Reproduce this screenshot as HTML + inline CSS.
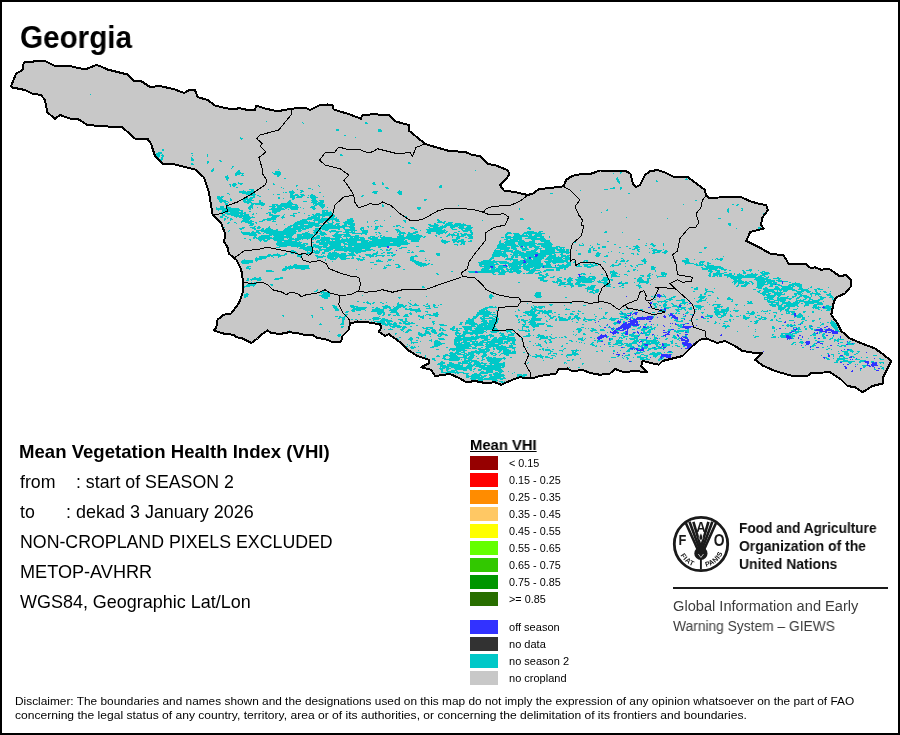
<!DOCTYPE html><html><head><meta charset='utf-8'><title>Georgia - Mean VHI</title><style>
html,body{margin:0;padding:0;background:#fff;}
body{width:900px;height:735px;position:relative;overflow:hidden;font-family:"Liberation Sans",sans-serif;color:#000;}
#frame{position:absolute;left:0;top:0;width:896px;height:731px;border:2px solid #000;}
.t{position:absolute;white-space:nowrap;transform-origin:0 0;line-height:1;will-change:transform;}
.b{font-weight:bold;}
svg{position:absolute;left:0;top:0;}
.sw{position:absolute;left:470px;width:28px;height:14px;}
.lb{position:absolute;left:509.5px;font-size:9.5px;line-height:1;white-space:nowrap;transform-origin:0 0;transform:scaleX(1.12);}
</style></head><body>
<svg width='900' height='735' viewBox='0 0 900 735' shape-rendering='crispEdges'>
<defs><clipPath id='cc'><polygon points='23.75,62.50 41.00,60.75 45.00,61.00 54.00,65.50 67.50,65.50 85.00,69.50 96.00,65.00 100.00,66.00 107.50,69.50 127.50,74.50 134.00,81.00 141.00,81.00 150.00,87.00 160.00,86.00 175.00,89.50 184.00,93.00 190.00,89.50 195.00,90.00 197.50,97.00 207.50,100.00 215.00,105.50 225.00,108.00 235.00,109.50 238.75,108.00 250.00,110.50 255.00,110.00 256.00,105.50 266.00,108.75 277.50,111.25 291.00,108.75 305.00,107.50 310.00,110.00 318.75,105.50 327.50,104.50 332.50,105.50 333.75,109.50 350.00,114.50 361.00,118.75 362.00,115.50 372.50,114.25 388.75,115.00 395.00,121.25 408.75,125.00 408.75,130.50 425.00,143.75 432.50,146.25 450.00,151.25 465.00,151.75 471.00,154.50 480.00,156.25 487.50,163.75 496.00,165.50 507.50,170.00 509.50,173.75 506.00,179.50 500.00,185.00 503.75,190.50 515.00,192.00 527.50,195.00 532.50,193.75 538.75,189.25 550.00,188.00 563.75,186.25 566.00,180.00 572.50,175.75 580.00,174.25 591.00,173.75 600.00,170.50 612.50,170.75 626.00,171.25 630.50,173.75 633.00,183.75 636.00,187.00 640.00,185.00 645.00,175.00 650.00,171.25 657.50,170.00 665.00,172.50 675.00,177.50 687.50,177.00 705.00,190.00 706.00,195.00 708.75,198.00 718.75,197.50 735.00,196.75 741.00,197.00 750.00,201.25 758.75,203.75 766.00,205.00 768.00,210.00 762.50,217.50 761.00,225.00 763.75,228.75 752.50,231.25 750.00,232.25 746.25,241.00 761.25,248.50 770.00,253.50 783.75,255.50 788.75,264.00 805.00,263.50 811.25,268.50 815.00,267.25 821.25,269.75 828.75,268.50 840.00,276.50 846.25,274.75 851.25,280.50 851.25,286.00 845.00,293.50 836.25,297.25 833.75,302.25 831.25,314.75 837.50,323.50 841.25,331.00 850.00,338.50 865.00,344.75 875.00,348.50 883.75,354.75 891.25,361.00 888.75,366.00 885.00,373.50 882.50,378.50 882.50,383.50 872.50,386.00 862.50,392.25 855.00,387.25 847.50,386.00 841.25,379.75 830.00,372.25 811.25,373.00 807.50,376.00 792.50,376.00 775.00,371.00 762.50,365.50 755.00,359.75 762.50,353.00 755.00,353.00 742.50,351.00 735.00,346.00 725.00,341.00 717.50,343.00 706.25,338.50 700.00,339.75 692.50,346.00 682.50,356.00 662.50,361.00 658.75,364.75 642.50,361.00 641.25,366.00 647.50,372.25 635.00,371.00 623.75,372.25 615.00,369.00 610.00,373.50 600.00,374.75 590.00,373.00 582.50,369.75 572.50,371.50 567.50,368.50 558.75,369.00 556.25,373.50 540.00,376.00 531.25,378.50 520.00,377.25 512.50,379.75 501.25,384.75 495.00,382.25 485.00,383.00 475.00,381.00 466.25,382.25 460.00,378.50 450.00,374.00 435.00,376.00 431.25,369.75 421.25,367.25 428.75,363.50 428.75,359.75 417.50,356.00 407.50,349.75 400.00,342.25 388.75,334.00 385.00,336.00 378.75,331.50 381.25,328.00 380.00,324.00 375.00,323.50 367.50,322.25 357.50,321.50 350.00,323.50 348.75,329.75 342.50,336.00 341.25,341.50 331.25,341.50 325.00,339.00 317.50,338.00 312.50,334.75 303.75,334.75 297.50,333.00 288.75,332.25 280.00,334.00 271.25,333.00 267.50,330.50 261.25,334.75 257.50,338.50 251.25,343.00 241.25,338.00 236.25,337.25 233.75,334.75 225.00,334.00 213.75,330.50 216.25,327.25 217.50,319.75 223.75,314.75 231.25,313.50 238.75,303.50 242.50,293.50 243.00,281.00 241.25,269.75 236.25,259.75 228.75,253.50 227.50,247.25 224.25,242.25 225.00,233.50 221.25,223.50 213.75,216.00 212.50,213.75 209.00,192.50 204.00,177.50 195.00,169.50 175.00,164.50 162.50,163.75 155.00,156.00 151.00,143.75 147.50,138.75 136.00,139.50 122.50,127.50 100.00,126.00 87.50,125.00 77.50,118.75 72.50,119.50 60.00,115.00 55.00,118.75 47.50,112.50 45.00,100.00 41.00,95.00 32.50,93.75 25.00,90.00 12.50,87.50 11.00,86.00 16.00,73.75 22.50,70.00'/></clipPath></defs>
<polygon points='23.75,62.50 41.00,60.75 45.00,61.00 54.00,65.50 67.50,65.50 85.00,69.50 96.00,65.00 100.00,66.00 107.50,69.50 127.50,74.50 134.00,81.00 141.00,81.00 150.00,87.00 160.00,86.00 175.00,89.50 184.00,93.00 190.00,89.50 195.00,90.00 197.50,97.00 207.50,100.00 215.00,105.50 225.00,108.00 235.00,109.50 238.75,108.00 250.00,110.50 255.00,110.00 256.00,105.50 266.00,108.75 277.50,111.25 291.00,108.75 305.00,107.50 310.00,110.00 318.75,105.50 327.50,104.50 332.50,105.50 333.75,109.50 350.00,114.50 361.00,118.75 362.00,115.50 372.50,114.25 388.75,115.00 395.00,121.25 408.75,125.00 408.75,130.50 425.00,143.75 432.50,146.25 450.00,151.25 465.00,151.75 471.00,154.50 480.00,156.25 487.50,163.75 496.00,165.50 507.50,170.00 509.50,173.75 506.00,179.50 500.00,185.00 503.75,190.50 515.00,192.00 527.50,195.00 532.50,193.75 538.75,189.25 550.00,188.00 563.75,186.25 566.00,180.00 572.50,175.75 580.00,174.25 591.00,173.75 600.00,170.50 612.50,170.75 626.00,171.25 630.50,173.75 633.00,183.75 636.00,187.00 640.00,185.00 645.00,175.00 650.00,171.25 657.50,170.00 665.00,172.50 675.00,177.50 687.50,177.00 705.00,190.00 706.00,195.00 708.75,198.00 718.75,197.50 735.00,196.75 741.00,197.00 750.00,201.25 758.75,203.75 766.00,205.00 768.00,210.00 762.50,217.50 761.00,225.00 763.75,228.75 752.50,231.25 750.00,232.25 746.25,241.00 761.25,248.50 770.00,253.50 783.75,255.50 788.75,264.00 805.00,263.50 811.25,268.50 815.00,267.25 821.25,269.75 828.75,268.50 840.00,276.50 846.25,274.75 851.25,280.50 851.25,286.00 845.00,293.50 836.25,297.25 833.75,302.25 831.25,314.75 837.50,323.50 841.25,331.00 850.00,338.50 865.00,344.75 875.00,348.50 883.75,354.75 891.25,361.00 888.75,366.00 885.00,373.50 882.50,378.50 882.50,383.50 872.50,386.00 862.50,392.25 855.00,387.25 847.50,386.00 841.25,379.75 830.00,372.25 811.25,373.00 807.50,376.00 792.50,376.00 775.00,371.00 762.50,365.50 755.00,359.75 762.50,353.00 755.00,353.00 742.50,351.00 735.00,346.00 725.00,341.00 717.50,343.00 706.25,338.50 700.00,339.75 692.50,346.00 682.50,356.00 662.50,361.00 658.75,364.75 642.50,361.00 641.25,366.00 647.50,372.25 635.00,371.00 623.75,372.25 615.00,369.00 610.00,373.50 600.00,374.75 590.00,373.00 582.50,369.75 572.50,371.50 567.50,368.50 558.75,369.00 556.25,373.50 540.00,376.00 531.25,378.50 520.00,377.25 512.50,379.75 501.25,384.75 495.00,382.25 485.00,383.00 475.00,381.00 466.25,382.25 460.00,378.50 450.00,374.00 435.00,376.00 431.25,369.75 421.25,367.25 428.75,363.50 428.75,359.75 417.50,356.00 407.50,349.75 400.00,342.25 388.75,334.00 385.00,336.00 378.75,331.50 381.25,328.00 380.00,324.00 375.00,323.50 367.50,322.25 357.50,321.50 350.00,323.50 348.75,329.75 342.50,336.00 341.25,341.50 331.25,341.50 325.00,339.00 317.50,338.00 312.50,334.75 303.75,334.75 297.50,333.00 288.75,332.25 280.00,334.00 271.25,333.00 267.50,330.50 261.25,334.75 257.50,338.50 251.25,343.00 241.25,338.00 236.25,337.25 233.75,334.75 225.00,334.00 213.75,330.50 216.25,327.25 217.50,319.75 223.75,314.75 231.25,313.50 238.75,303.50 242.50,293.50 243.00,281.00 241.25,269.75 236.25,259.75 228.75,253.50 227.50,247.25 224.25,242.25 225.00,233.50 221.25,223.50 213.75,216.00 212.50,213.75 209.00,192.50 204.00,177.50 195.00,169.50 175.00,164.50 162.50,163.75 155.00,156.00 151.00,143.75 147.50,138.75 136.00,139.50 122.50,127.50 100.00,126.00 87.50,125.00 77.50,118.75 72.50,119.50 60.00,115.00 55.00,118.75 47.50,112.50 45.00,100.00 41.00,95.00 32.50,93.75 25.00,90.00 12.50,87.50 11.00,86.00 16.00,73.75 22.50,70.00' fill='#c8c8c8'/>
<g clip-path='url(#cc)'><path fill='#00c8c8' d='M90 94h1v1h-1zM266 121h1v1h-1zM365 122h2v1h-2zM302 122h1v1h-1zM303 123h1v1h-1zM365 123h3v1h-3zM378 129h3v1h-3zM336 129h3v2h-3zM378 130h4v2h-4zM344 135h2v1h-2zM240 137h1v1h-1zM355 137h1v1h-1zM240 138h3v1h-3zM241 139h1v1h-1zM162 149h2v2h-2zM158 152h4v1h-4zM156 153h6v1h-6zM191 153h2v1h-2zM162 154h1v1h-1zM340 154h2v1h-2zM192 155h1v1h-1zM161 155h3v1h-3zM340 155h3v1h-3zM207 154h1v3h-1zM156 154h4v3h-4zM162 156h2v1h-2zM191 157h1v1h-1zM156 157h3v1h-3zM161 157h2v2h-2zM191 158h2v1h-2zM157 158h2v1h-2zM158 159h5v1h-5zM191 159h3v2h-3zM219 160h2v1h-2zM159 160h3v1h-3zM220 161h2v1h-2zM160 161h2v1h-2zM207 161h2v2h-2zM408 162h2v1h-2zM207 163h1v1h-1zM408 163h3v1h-3zM191 163h2v1h-2zM191 164h3v1h-3zM232 166h2v1h-2zM232 167h1v1h-1zM231 168h1v1h-1zM213 168h1v1h-1zM278 169h1v1h-1zM212 169h2v1h-2zM238 170h2v1h-2zM475 170h1v1h-1zM211 170h3v1h-3zM211 171h2v1h-2zM237 171h3v1h-3zM275 171h5v1h-5zM275 172h6v1h-6zM236 172h5v1h-5zM272 172h1v1h-1zM620 172h2v1h-2zM273 173h8v1h-8zM620 173h1v1h-1zM235 173h9v1h-9zM613 173h1v1h-1zM242 174h1v1h-1zM274 174h7v1h-7zM235 174h5v1h-5zM241 175h3v1h-3zM235 175h2v1h-2zM277 175h3v1h-3zM227 175h1v1h-1zM225 176h3v1h-3zM277 176h2v1h-2zM225 177h4v1h-4zM617 177h1v1h-1zM686 178h1v1h-1zM284 178h2v1h-2zM616 178h2v1h-2zM226 178h3v1h-3zM616 179h3v1h-3zM685 179h3v1h-3zM226 179h2v1h-2zM617 180h2v1h-2zM656 180h1v1h-1zM227 180h1v1h-1zM617 181h3v1h-3zM656 181h2v1h-2zM238 182h1v1h-1zM618 182h2v1h-2zM382 182h1v1h-1zM373 182h2v1h-2zM233 183h3v1h-3zM273 183h1v1h-1zM372 183h3v1h-3zM619 183h1v1h-1zM238 183h5v1h-5zM382 183h2v2h-2zM273 184h2v1h-2zM240 184h2v1h-2zM229 184h2v1h-2zM232 184h5v1h-5zM373 184h3v1h-3zM232 185h4v1h-4zM296 185h2v1h-2zM440 185h2v1h-2zM318 185h1v1h-1zM230 185h1v2h-1zM233 186h2v1h-2zM319 186h1v1h-1zM296 186h1v1h-1zM439 186h3v2h-3zM236 187h2v1h-2zM281 187h1v1h-1zM385 187h3v1h-3zM613 187h2v1h-2zM620 187h2v2h-2zM283 188h1v1h-1zM386 188h3v1h-3zM308 188h3v1h-3zM610 188h5v1h-5zM604 189h4v1h-4zM620 189h1v1h-1zM249 189h5v1h-5zM297 189h1v1h-1zM268 189h1v1h-1zM312 189h1v1h-1zM292 190h1v1h-1zM251 190h3v1h-3zM399 190h1v1h-1zM243 190h1v1h-1zM580 190h1v1h-1zM300 190h3v1h-3zM247 191h8v1h-8zM373 191h5v1h-5zM289 191h5v1h-5zM398 191h4v1h-4zM301 191h3v1h-3zM239 191h7v1h-7zM283 192h1v1h-1zM239 192h16v1h-16zM300 192h2v1h-2zM319 192h2v1h-2zM285 192h2v1h-2zM289 192h6v1h-6zM397 192h5v1h-5zM372 192h5v1h-5zM242 193h13v1h-13zM374 193h3v1h-3zM290 193h4v1h-4zM227 193h2v1h-2zM550 193h3v1h-3zM398 193h4v1h-4zM628 193h2v1h-2zM311 194h2v1h-2zM273 194h1v1h-1zM277 194h3v1h-3zM290 194h3v1h-3zM295 194h3v1h-3zM246 194h10v1h-10zM229 194h1v1h-1zM399 194h3v1h-3zM300 194h4v1h-4zM257 195h2v1h-2zM301 195h4v1h-4zM308 195h1v1h-1zM310 195h5v1h-5zM290 195h9v1h-9zM250 195h5v1h-5zM362 195h2v1h-2zM297 196h6v1h-6zM253 196h2v1h-2zM259 196h2v1h-2zM310 196h6v1h-6zM361 196h2v1h-2zM217 196h3v1h-3zM221 196h3v1h-3zM323 196h1v1h-1zM290 196h5v2h-5zM307 197h2v1h-2zM296 197h6v1h-6zM310 197h8v1h-8zM217 197h6v1h-6zM250 197h5v1h-5zM244 197h4v2h-4zM278 197h2v2h-2zM217 198h5v1h-5zM283 198h1v1h-1zM311 198h5v1h-5zM230 198h1v1h-1zM249 198h4v1h-4zM292 198h3v1h-3zM243 199h9v1h-9zM218 199h5v1h-5zM424 199h3v1h-3zM292 199h2v1h-2zM312 199h4v1h-4zM230 199h2v2h-2zM247 200h7v1h-7zM219 200h7v1h-7zM319 200h5v1h-5zM289 200h2v1h-2zM424 200h2v1h-2zM695 200h2v1h-2zM243 200h3v1h-3zM311 200h6v1h-6zM259 200h2v2h-2zM243 201h8v1h-8zM312 201h6v1h-6zM288 201h3v1h-3zM320 201h4v1h-4zM219 201h9v1h-9zM303 201h4v1h-4zM244 202h8v1h-8zM220 202h2v1h-2zM228 202h1v1h-1zM318 202h6v1h-6zM259 202h4v1h-4zM287 202h5v1h-5zM224 202h2v1h-2zM311 202h6v1h-6zM281 203h12v1h-12zM251 203h14v1h-14zM247 203h2v1h-2zM313 203h10v1h-10zM225 203h3v2h-3zM251 204h3v1h-3zM732 204h2v1h-2zM315 204h10v1h-10zM382 204h1v1h-1zM737 204h2v1h-2zM313 204h1v1h-1zM272 204h6v1h-6zM683 204h1v1h-1zM255 204h10v1h-10zM280 204h17v1h-17zM319 205h6v1h-6zM736 205h2v1h-2zM295 205h3v1h-3zM261 205h3v1h-3zM250 205h3v1h-3zM272 205h3v1h-3zM276 205h16v1h-16zM314 205h3v1h-3zM458 205h1v1h-1zM382 205h2v2h-2zM226 205h2v2h-2zM320 206h5v1h-5zM269 206h7v1h-7zM311 206h4v1h-4zM249 206h4v1h-4zM277 206h21v1h-21zM220 206h4v2h-4zM284 207h15v1h-15zM257 207h1v1h-1zM327 207h1v1h-1zM300 207h1v1h-1zM272 207h3v1h-3zM226 207h5v1h-5zM248 207h5v1h-5zM310 207h5v1h-5zM321 207h3v1h-3zM277 207h5v1h-5zM216 207h1v1h-1zM417 207h4v2h-4zM271 208h13v1h-13zM290 208h8v1h-8zM312 208h4v1h-4zM248 208h3v1h-3zM741 208h2v1h-2zM285 208h2v1h-2zM728 208h1v1h-1zM322 208h1v1h-1zM303 208h1v1h-1zM252 208h1v1h-1zM261 208h1v1h-1zM216 208h23v1h-23zM519 208h1v2h-1zM288 209h1v1h-1zM249 209h2v1h-2zM313 209h2v1h-2zM607 209h1v1h-1zM742 209h1v1h-1zM291 209h7v1h-7zM269 209h16v1h-16zM418 209h2v1h-2zM216 209h24v1h-24zM322 210h6v1h-6zM741 210h2v1h-2zM218 210h1v1h-1zM272 210h9v1h-9zM606 210h2v1h-2zM222 210h21v1h-21zM727 209h2v3h-2zM222 211h17v1h-17zM322 211h3v1h-3zM326 211h2v1h-2zM249 211h2v1h-2zM330 211h1v1h-1zM241 211h2v1h-2zM272 211h8v1h-8zM268 212h3v1h-3zM221 212h7v1h-7zM728 212h1v1h-1zM272 212h5v1h-5zM230 212h13v1h-13zM601 212h1v1h-1zM244 212h2v1h-2zM298 212h2v1h-2zM322 212h10v2h-10zM269 213h2v1h-2zM316 213h4v1h-4zM266 213h2v1h-2zM293 213h4v1h-4zM763 213h2v1h-2zM253 213h1v1h-1zM274 213h2v1h-2zM304 213h1v1h-1zM220 213h1v1h-1zM256 213h1v1h-1zM225 213h21v1h-21zM240 214h3v1h-3zM269 214h4v1h-4zM227 214h12v1h-12zM293 214h1v1h-1zM284 214h1v1h-1zM315 214h19v1h-19zM312 214h2v1h-2zM252 214h2v1h-2zM244 214h5v1h-5zM222 214h3v2h-3zM283 215h1v1h-1zM269 215h11v1h-11zM313 215h22v1h-22zM231 215h18v1h-18zM290 215h5v1h-5zM308 215h2v1h-2zM282 216h2v1h-2zM322 216h3v1h-3zM329 216h6v1h-6zM403 216h4v1h-4zM234 216h16v1h-16zM272 216h7v1h-7zM293 216h2v1h-2zM318 216h2v1h-2zM225 216h2v1h-2zM390 216h1v1h-1zM252 216h1v1h-1zM311 216h6v1h-6zM220 216h3v2h-3zM243 217h12v1h-12zM239 217h3v1h-3zM271 217h6v1h-6zM227 217h2v1h-2zM626 217h1v1h-1zM322 217h1v1h-1zM329 217h5v1h-5zM236 217h1v1h-1zM336 217h1v1h-1zM281 217h4v1h-4zM308 217h12v1h-12zM718 218h3v1h-3zM242 218h9v1h-9zM267 218h9v1h-9zM667 218h1v1h-1zM350 218h3v1h-3zM227 218h1v1h-1zM282 218h1v1h-1zM520 218h3v1h-3zM307 218h13v1h-13zM321 218h16v1h-16zM230 218h2v1h-2zM224 218h2v2h-2zM520 219h4v1h-4zM263 219h13v1h-13zM302 219h10v1h-10zM347 219h6v1h-6zM243 219h7v1h-7zM230 219h3v1h-3zM314 219h25v1h-25zM437 219h2v1h-2zM224 220h1v1h-1zM403 220h3v1h-3zM347 220h7v1h-7zM437 220h3v1h-3zM273 220h1v1h-1zM335 220h4v1h-4zM482 220h1v1h-1zM230 220h1v1h-1zM384 220h1v1h-1zM262 220h3v1h-3zM250 220h2v1h-2zM300 220h7v1h-7zM313 220h17v1h-17zM375 220h3v1h-3zM242 220h7v1h-7zM267 220h4v1h-4zM332 220h1v2h-1zM326 221h2v1h-2zM241 221h13v1h-13zM345 221h9v1h-9zM272 221h4v1h-4zM314 221h1v1h-1zM318 221h6v1h-6zM259 221h4v1h-4zM297 221h11v1h-11zM336 221h4v1h-4zM374 221h1v1h-1zM438 221h4v1h-4zM404 221h2v1h-2zM444 221h2v1h-2zM309 221h1v1h-1zM367 221h1v2h-1zM255 222h2v1h-2zM295 222h20v1h-20zM245 222h7v1h-7zM327 222h2v1h-2zM343 222h10v1h-10zM437 222h8v1h-8zM448 222h5v1h-5zM332 222h2v1h-2zM234 222h2v1h-2zM405 222h1v1h-1zM318 222h5v1h-5zM228 222h2v1h-2zM241 222h1v1h-1zM344 223h11v1h-11zM463 223h1v1h-1zM227 223h2v1h-2zM248 223h6v1h-6zM375 223h1v1h-1zM236 223h1v1h-1zM336 223h4v1h-4zM256 223h1v1h-1zM455 223h6v1h-6zM434 223h2v1h-2zM446 223h6v1h-6zM443 223h2v1h-2zM328 223h5v1h-5zM294 223h26v1h-26zM728 223h3v2h-3zM308 224h11v1h-11zM250 224h4v1h-4zM348 224h7v1h-7zM434 224h4v1h-4zM276 224h1v1h-1zM454 224h12v1h-12zM428 224h3v1h-3zM335 224h4v1h-4zM445 224h8v1h-8zM284 224h1v1h-1zM344 224h3v1h-3zM324 224h9v1h-9zM293 224h11v1h-11zM444 225h27v1h-27zM442 225h1v1h-1zM342 225h5v1h-5zM429 225h10v1h-10zM300 225h36v1h-36zM380 225h1v1h-1zM337 225h3v1h-3zM249 225h4v1h-4zM350 225h5v1h-5zM729 225h2v1h-2zM290 225h8v1h-8zM396 225h4v1h-4zM293 226h20v1h-20zM315 226h4v1h-4zM269 226h1v1h-1zM367 226h2v1h-2zM375 226h4v1h-4zM450 226h8v1h-8zM459 226h5v1h-5zM467 226h4v1h-4zM288 226h4v1h-4zM258 226h2v1h-2zM440 226h7v1h-7zM371 226h1v1h-1zM396 226h2v1h-2zM254 226h2v1h-2zM322 226h32v1h-32zM380 226h3v1h-3zM400 226h1v1h-1zM393 226h2v1h-2zM430 226h8v1h-8zM466 227h7v1h-7zM528 227h2v1h-2zM450 227h5v1h-5zM361 227h3v1h-3zM257 227h4v1h-4zM428 227h2v1h-2zM268 227h2v1h-2zM242 227h3v1h-3zM458 227h6v1h-6zM223 227h2v1h-2zM368 227h1v1h-1zM402 227h2v1h-2zM410 227h4v1h-4zM250 227h5v1h-5zM321 227h24v1h-24zM349 227h6v1h-6zM433 227h13v1h-13zM287 227h4v1h-4zM293 227h11v1h-11zM305 227h7v1h-7zM375 227h3v2h-3zM758 227h3v2h-3zM252 228h4v1h-4zM262 228h2v1h-2zM266 228h5v1h-5zM360 228h4v1h-4zM459 228h13v1h-13zM451 228h2v1h-2zM285 228h24v1h-24zM411 228h4v1h-4zM239 228h5v1h-5zM315 228h25v1h-25zM527 228h4v1h-4zM429 228h14v1h-14zM257 228h3v1h-3zM343 228h2v1h-2zM350 228h5v1h-5zM736 228h1v1h-1zM444 229h1v1h-1zM344 229h11v1h-11zM414 229h3v1h-3zM284 229h17v1h-17zM302 229h4v1h-4zM276 229h2v1h-2zM758 229h2v1h-2zM374 229h3v1h-3zM529 229h2v1h-2zM240 229h2v1h-2zM315 229h6v1h-6zM426 229h16v1h-16zM254 229h2v1h-2zM360 229h2v1h-2zM363 229h1v1h-1zM395 229h4v1h-4zM461 229h2v1h-2zM452 229h5v1h-5zM261 229h3v1h-3zM322 229h7v1h-7zM338 229h2v1h-2zM265 229h8v1h-8zM465 229h6v1h-6zM361 230h7v1h-7zM256 230h22v1h-22zM345 230h12v1h-12zM325 230h3v1h-3zM283 230h13v1h-13zM462 230h10v1h-10zM229 230h1v1h-1zM313 230h8v1h-8zM298 230h4v1h-4zM420 230h1v1h-1zM427 230h19v1h-19zM331 230h5v1h-5zM396 230h4v1h-4zM539 231h4v1h-4zM228 231h1v1h-1zM397 231h4v1h-4zM415 231h3v1h-3zM527 231h7v1h-7zM386 231h2v1h-2zM446 231h2v1h-2zM329 231h13v1h-13zM470 231h2v1h-2zM256 231h3v1h-3zM354 231h1v1h-1zM314 231h8v1h-8zM308 231h1v1h-1zM351 231h2v1h-2zM345 231h4v1h-4zM298 231h3v1h-3zM261 231h36v1h-36zM427 231h18v1h-18zM458 231h2v1h-2zM605 231h2v1h-2zM252 231h2v1h-2zM463 231h5v1h-5zM241 231h1v1h-1zM362 231h6v2h-6zM538 232h3v1h-3zM426 232h5v1h-5zM622 232h1v1h-1zM397 232h1v1h-1zM413 232h5v1h-5zM436 232h11v1h-11zM470 232h3v1h-3zM305 232h3v1h-3zM330 232h1v1h-1zM313 232h5v1h-5zM241 232h9v1h-9zM604 232h3v1h-3zM378 232h2v1h-2zM524 232h13v1h-13zM251 232h9v1h-9zM343 232h12v1h-12zM264 232h32v1h-32zM399 232h6v1h-6zM454 232h3v1h-3zM375 232h2v1h-2zM320 232h5v1h-5zM507 232h4v1h-4zM336 232h3v1h-3zM408 232h2v1h-2zM408 233h8v1h-8zM506 233h6v1h-6zM258 233h3v1h-3zM428 233h3v1h-3zM453 233h1v1h-1zM346 233h3v1h-3zM399 233h7v1h-7zM449 233h1v1h-1zM445 233h1v1h-1zM436 233h7v1h-7zM460 233h2v1h-2zM523 233h22v1h-22zM352 233h15v1h-15zM335 233h3v1h-3zM513 233h6v1h-6zM379 233h2v1h-2zM471 233h2v1h-2zM263 233h1v1h-1zM302 233h8v1h-8zM266 233h30v1h-30zM314 233h4v1h-4zM242 233h14v1h-14zM464 233h3v1h-3zM319 233h7v1h-7zM457 233h2v2h-2zM361 234h1v1h-1zM526 234h1v1h-1zM243 234h14v1h-14zM535 234h7v1h-7zM320 234h7v1h-7zM314 234h3v1h-3zM403 234h1v1h-1zM269 234h25v1h-25zM297 234h16v1h-16zM461 234h12v1h-12zM334 234h16v1h-16zM398 234h3v1h-3zM407 234h6v1h-6zM376 234h1v1h-1zM416 234h3v1h-3zM528 234h4v1h-4zM365 234h2v1h-2zM438 234h2v1h-2zM505 234h3v1h-3zM522 234h2v1h-2zM514 234h6v1h-6zM448 234h7v1h-7zM529 235h3v1h-3zM505 235h2v1h-2zM303 235h11v1h-11zM514 235h14v1h-14zM447 235h3v1h-3zM344 235h7v1h-7zM249 235h8v1h-8zM451 235h8v1h-8zM534 235h8v1h-8zM407 235h15v1h-15zM273 235h11v1h-11zM461 235h5v1h-5zM321 235h3v1h-3zM332 235h10v1h-10zM286 235h7v1h-7zM355 235h4v1h-4zM435 235h2v1h-2zM380 235h2v1h-2zM297 235h5v1h-5zM467 235h5v1h-5zM317 235h3v1h-3zM261 235h11v1h-11zM399 235h5v1h-5zM457 236h7v1h-7zM324 236h1v1h-1zM397 236h7v1h-7zM468 236h5v1h-5zM380 236h1v1h-1zM446 236h2v1h-2zM297 236h16v1h-16zM316 236h4v1h-4zM343 236h16v1h-16zM436 236h1v1h-1zM254 236h2v1h-2zM513 236h31v1h-31zM424 236h2v1h-2zM406 236h17v1h-17zM259 236h11v1h-11zM383 236h2v1h-2zM274 236h18v1h-18zM370 236h5v1h-5zM333 236h8v1h-8zM378 236h1v1h-1zM505 236h6v1h-6zM549 236h1v2h-1zM452 236h1v2h-1zM540 237h4v1h-4zM350 237h3v1h-3zM505 237h17v1h-17zM423 237h2v1h-2zM335 237h7v1h-7zM465 237h2v1h-2zM297 237h23v1h-23zM258 237h14v1h-14zM397 237h24v1h-24zM354 237h10v1h-10zM380 237h12v1h-12zM253 237h4v1h-4zM469 237h4v1h-4zM321 237h9v1h-9zM346 237h1v1h-1zM528 237h9v1h-9zM372 237h6v1h-6zM501 237h3v1h-3zM273 237h19v1h-19zM368 237h3v1h-3zM440 237h2v1h-2zM456 237h4v2h-4zM289 238h5v1h-5zM295 238h15v1h-15zM468 238h5v1h-5zM244 238h2v1h-2zM253 238h2v1h-2zM256 238h28v1h-28zM506 238h5v1h-5zM321 238h19v1h-19zM349 238h10v1h-10zM311 238h9v1h-9zM346 238h2v1h-2zM360 238h5v1h-5zM525 238h20v1h-20zM368 238h10v1h-10zM513 238h9v1h-9zM287 238h1v1h-1zM342 238h1v1h-1zM381 238h39v1h-39zM267 239h3v1h-3zM315 239h1v1h-1zM638 239h2v1h-2zM302 239h1v1h-1zM312 239h2v1h-2zM341 239h24v1h-24zM320 239h10v1h-10zM452 239h6v1h-6zM461 239h3v1h-3zM504 239h4v1h-4zM249 239h2v1h-2zM288 239h13v1h-13zM307 239h1v1h-1zM273 239h11v1h-11zM531 239h15v1h-15zM408 239h12v1h-12zM258 239h7v1h-7zM442 239h1v1h-1zM370 239h35v1h-35zM331 239h9v1h-9zM510 239h12v1h-12zM506 240h12v1h-12zM540 240h10v1h-10zM519 240h5v1h-5zM441 240h5v1h-5zM259 240h3v1h-3zM372 240h32v1h-32zM500 240h1v1h-1zM405 240h2v1h-2zM470 240h2v1h-2zM263 240h5v1h-5zM335 240h34v1h-34zM458 240h6v1h-6zM452 240h5v1h-5zM274 240h18v1h-18zM317 240h13v1h-13zM532 240h3v1h-3zM332 240h1v1h-1zM295 240h4v1h-4zM250 240h1v1h-1zM411 240h8v2h-8zM361 241h7v1h-7zM260 241h1v1h-1zM264 241h3v1h-3zM453 241h13v1h-13zM316 241h4v1h-4zM505 241h20v1h-20zM607 241h2v1h-2zM321 241h4v1h-4zM277 241h5v1h-5zM284 241h13v1h-13zM299 241h1v1h-1zM468 241h4v1h-4zM541 241h9v1h-9zM369 241h38v1h-38zM326 241h31v1h-31zM441 241h9v1h-9zM529 241h6v1h-6zM499 241h2v2h-2zM504 242h11v1h-11zM544 242h7v1h-7zM316 242h29v1h-29zM361 242h29v1h-29zM347 242h10v1h-10zM393 242h15v1h-15zM574 242h2v1h-2zM277 242h25v1h-25zM312 242h2v1h-2zM457 242h2v1h-2zM518 242h17v1h-17zM442 242h6v1h-6zM453 242h2v1h-2zM461 242h4v2h-4zM518 243h19v1h-19zM505 243h10v1h-10zM343 243h4v1h-4zM319 243h22v1h-22zM597 243h1v1h-1zM651 243h2v1h-2zM303 243h5v1h-5zM499 243h5v1h-5zM538 243h14v1h-14zM646 243h1v1h-1zM276 243h25v1h-25zM444 243h2v1h-2zM348 243h62v1h-62zM582 243h1v1h-1zM579 244h1v1h-1zM313 244h3v1h-3zM650 244h4v1h-4zM329 244h12v1h-12zM537 244h16v1h-16zM319 244h9v1h-9zM276 244h29v1h-29zM460 244h2v1h-2zM454 244h4v1h-4zM583 244h1v1h-1zM518 244h17v1h-17zM344 244h64v1h-64zM463 244h2v1h-2zM306 244h2v1h-2zM597 244h3v1h-3zM614 244h2v1h-2zM498 244h18v1h-18zM663 243h1v3h-1zM497 245h21v1h-21zM636 245h2v1h-2zM652 245h4v1h-4zM344 245h1v1h-1zM519 245h17v1h-17zM330 245h11v1h-11zM277 245h29v1h-29zM645 245h2v1h-2zM323 245h5v1h-5zM590 245h1v1h-1zM579 245h5v1h-5zM348 245h53v1h-53zM457 245h1v1h-1zM313 245h6v1h-6zM541 245h11v2h-11zM307 246h20v1h-20zM378 246h9v1h-9zM348 246h4v1h-4zM529 246h11v1h-11zM653 246h2v1h-2zM397 246h3v1h-3zM592 246h1v1h-1zM511 246h8v1h-8zM416 246h3v1h-3zM626 246h2v1h-2zM291 246h14v1h-14zM354 246h22v1h-22zM633 246h6v1h-6zM556 246h4v1h-4zM520 246h1v1h-1zM497 246h10v1h-10zM524 246h3v1h-3zM329 246h17v1h-17zM279 246h8v1h-8zM602 246h4v2h-4zM529 247h3v1h-3zM315 247h7v1h-7zM704 247h3v1h-3zM297 247h1v1h-1zM520 247h3v1h-3zM378 247h3v1h-3zM401 247h6v1h-6zM543 247h15v1h-15zM511 247h5v1h-5zM534 247h5v1h-5zM323 247h20v1h-20zM635 247h5v1h-5zM525 247h2v1h-2zM276 247h4v1h-4zM300 247h14v1h-14zM559 247h6v1h-6zM344 247h27v1h-27zM591 247h2v1h-2zM497 247h13v1h-13zM619 247h2v1h-2zM598 247h2v2h-2zM390 248h2v1h-2zM511 248h6v1h-6zM318 248h3v1h-3zM560 248h2v1h-2zM535 248h7v1h-7zM563 248h1v1h-1zM496 248h14v1h-14zM545 248h13v1h-13zM629 248h2v1h-2zM299 248h14v1h-14zM593 248h2v1h-2zM704 248h2v1h-2zM326 248h44v1h-44zM399 248h3v1h-3zM634 248h4v1h-4zM649 248h1v1h-1zM521 248h7v1h-7zM651 248h2v1h-2zM589 248h2v2h-2zM540 249h1v1h-1zM556 249h9v1h-9zM386 249h2v1h-2zM545 249h10v1h-10zM522 249h7v1h-7zM495 249h1v1h-1zM513 249h4v1h-4zM632 249h3v1h-3zM303 249h10v1h-10zM637 249h3v1h-3zM365 249h8v1h-8zM593 249h1v1h-1zM319 249h14v1h-14zM653 249h4v1h-4zM500 249h9v1h-9zM534 249h4v1h-4zM335 249h27v1h-27zM380 249h2v1h-2zM663 249h1v1h-1zM389 249h2v1h-2zM566 249h3v2h-3zM305 250h10v1h-10zM324 250h7v1h-7zM494 250h7v1h-7zM522 250h4v1h-4zM291 250h3v1h-3zM373 250h2v1h-2zM319 250h3v1h-3zM334 250h37v1h-37zM557 250h8v1h-8zM386 250h4v1h-4zM515 250h4v1h-4zM652 250h10v1h-10zM531 250h6v1h-6zM382 250h1v1h-1zM593 250h4v1h-4zM504 250h9v1h-9zM637 250h2v1h-2zM316 250h2v1h-2zM420 250h4v1h-4zM665 250h2v1h-2zM576 250h1v1h-1zM408 250h2v1h-2zM540 250h15v2h-15zM419 251h6v1h-6zM638 251h2v1h-2zM526 251h10v1h-10zM664 251h4v1h-4zM349 251h17v1h-17zM494 251h19v1h-19zM412 251h1v1h-1zM314 251h6v1h-6zM334 251h1v1h-1zM559 251h10v1h-10zM307 251h1v1h-1zM653 251h2v1h-2zM377 251h1v1h-1zM514 251h7v1h-7zM657 251h4v1h-4zM611 251h1v1h-1zM291 251h5v1h-5zM310 251h2v1h-2zM344 251h3v1h-3zM324 251h5v1h-5zM588 250h3v3h-3zM699 252h3v1h-3zM387 252h6v1h-6zM376 252h2v1h-2zM619 252h1v1h-1zM597 252h2v1h-2zM411 252h3v1h-3zM355 252h6v1h-6zM351 252h3v1h-3zM662 252h5v1h-5zM493 252h9v1h-9zM503 252h3v1h-3zM332 252h5v1h-5zM526 252h12v1h-12zM407 252h3v1h-3zM540 252h30v1h-30zM290 252h7v1h-7zM383 252h2v1h-2zM307 252h3v1h-3zM313 252h7v1h-7zM653 252h7v1h-7zM649 252h1v1h-1zM329 252h2v1h-2zM511 252h13v1h-13zM608 252h1v1h-1zM322 252h3v2h-3zM596 253h5v1h-5zM306 253h4v1h-4zM315 253h4v1h-4zM387 253h3v1h-3zM381 253h2v1h-2zM566 253h3v1h-3zM285 253h2v1h-2zM637 253h1v1h-1zM291 253h3v1h-3zM631 253h3v1h-3zM373 253h5v1h-5zM561 253h2v1h-2zM391 253h2v1h-2zM341 253h5v1h-5zM328 253h11v1h-11zM348 253h6v1h-6zM356 253h2v1h-2zM622 253h2v1h-2zM277 253h1v1h-1zM664 253h2v1h-2zM513 253h42v1h-42zM652 253h3v1h-3zM493 253h13v1h-13zM436 253h4v2h-4zM578 253h3v2h-3zM492 254h15v1h-15zM268 254h3v1h-3zM510 254h2v1h-2zM372 254h5v1h-5zM328 254h18v1h-18zM365 254h6v1h-6zM633 254h1v1h-1zM321 254h1v1h-1zM596 254h4v1h-4zM538 254h14v1h-14zM393 254h3v1h-3zM297 254h6v1h-6zM519 254h16v1h-16zM284 254h3v1h-3zM560 254h3v1h-3zM349 254h6v1h-6zM554 254h2v1h-2zM273 254h7v1h-7zM637 254h2v1h-2zM513 254h5v1h-5zM387 255h3v1h-3zM549 255h7v1h-7zM512 255h22v1h-22zM267 255h18v1h-18zM606 255h2v1h-2zM567 255h3v1h-3zM561 255h5v1h-5zM538 255h8v1h-8zM315 255h3v1h-3zM415 255h2v1h-2zM327 255h29v1h-29zM391 255h4v1h-4zM323 255h1v1h-1zM595 255h5v1h-5zM359 255h1v1h-1zM492 255h16v1h-16zM376 255h9v1h-9zM366 255h8v1h-8zM437 255h3v1h-3zM297 255h5v2h-5zM604 256h4v1h-4zM558 256h1v1h-1zM502 256h6v1h-6zM271 256h2v1h-2zM352 256h1v1h-1zM278 256h3v1h-3zM316 256h10v1h-10zM382 256h2v1h-2zM561 256h8v1h-8zM327 256h20v1h-20zM492 256h8v1h-8zM548 256h8v1h-8zM359 256h2v1h-2zM369 256h5v1h-5zM259 256h11v1h-11zM521 256h14v1h-14zM596 256h3v1h-3zM375 256h2v1h-2zM392 256h1v1h-1zM537 256h9v1h-9zM411 256h7v1h-7zM723 256h1v1h-1zM511 256h3v2h-3zM515 256h3v2h-3zM370 257h1v1h-1zM521 257h4v1h-4zM256 257h1v1h-1zM565 257h5v1h-5zM339 257h7v1h-7zM531 257h13v1h-13zM504 257h1v1h-1zM259 257h8v1h-8zM335 257h3v1h-3zM327 257h7v1h-7zM362 257h3v1h-3zM491 257h3v1h-3zM352 257h2v1h-2zM547 257h16v1h-16zM273 257h1v1h-1zM507 257h1v1h-1zM300 257h1v1h-1zM278 257h1v1h-1zM317 257h6v1h-6zM527 257h2v2h-2zM425 258h1v1h-1zM716 258h2v1h-2zM685 258h3v1h-3zM490 258h4v1h-4zM328 258h9v1h-9zM351 258h3v1h-3zM533 258h11v1h-11zM621 258h2v1h-2zM546 258h16v1h-16zM363 258h1v1h-1zM317 258h1v1h-1zM340 258h10v1h-10zM720 258h3v1h-3zM644 258h1v1h-1zM523 258h3v1h-3zM506 258h7v1h-7zM255 258h11v1h-11zM563 258h8v1h-8zM356 258h4v1h-4zM410 257h4v3h-4zM388 259h4v1h-4zM717 259h6v1h-6zM623 259h1v1h-1zM255 259h7v1h-7zM715 259h1v1h-1zM545 259h7v1h-7zM686 259h3v1h-3zM524 259h8v1h-8zM489 259h3v1h-3zM341 259h5v1h-5zM505 259h13v1h-13zM694 259h1v1h-1zM244 259h1v1h-1zM712 259h1v1h-1zM330 259h6v1h-6zM378 259h1v1h-1zM553 259h10v1h-10zM643 259h3v1h-3zM565 259h6v1h-6zM533 259h9v1h-9zM357 259h8v1h-8zM325 259h1v2h-1zM410 260h6v1h-6zM360 260h3v1h-3zM376 260h5v1h-5zM520 260h3v1h-3zM393 260h1v1h-1zM616 260h2v1h-2zM483 260h8v1h-8zM388 260h3v1h-3zM358 260h1v1h-1zM255 260h3v1h-3zM548 260h20v1h-20zM493 260h2v1h-2zM510 260h1v1h-1zM425 260h2v1h-2zM621 260h4v1h-4zM584 260h4v1h-4zM641 260h5v1h-5zM627 260h2v1h-2zM242 260h11v1h-11zM429 260h1v1h-1zM720 260h2v1h-2zM525 260h16v1h-16zM513 260h5v1h-5zM682 260h7v2h-7zM513 261h11v1h-11zM642 261h5v1h-5zM574 261h2v1h-2zM583 261h2v1h-2zM256 261h1v1h-1zM620 261h5v1h-5zM412 261h7v1h-7zM544 261h24v1h-24zM376 261h7v1h-7zM626 261h2v1h-2zM603 261h2v1h-2zM700 261h5v1h-5zM616 261h1v1h-1zM586 261h2v1h-2zM332 261h1v1h-1zM387 261h1v1h-1zM481 261h26v1h-26zM241 261h12v2h-12zM526 261h15v2h-15zM707 262h2v1h-2zM552 262h12v1h-12zM370 262h4v1h-4zM615 262h2v1h-2zM499 262h10v1h-10zM605 262h1v1h-1zM699 262h5v1h-5zM566 262h5v1h-5zM414 262h8v1h-8zM545 262h6v1h-6zM585 262h2v1h-2zM512 262h11v1h-11zM478 262h19v1h-19zM591 262h2v1h-2zM684 262h6v1h-6zM589 262h1v1h-1zM573 262h2v1h-2zM644 262h2v2h-2zM696 263h1v1h-1zM685 263h9v1h-9zM496 263h2v1h-2zM553 263h3v1h-3zM479 263h15v1h-15zM242 263h7v1h-7zM707 263h4v1h-4zM546 263h4v1h-4zM428 263h2v1h-2zM699 263h2v1h-2zM702 263h1v1h-1zM415 263h11v1h-11zM598 263h1v1h-1zM625 263h1v1h-1zM593 263h4v1h-4zM500 263h27v1h-27zM528 263h15v1h-15zM619 263h2v1h-2zM590 263h1v1h-1zM567 263h4v1h-4zM707 264h2v1h-2zM558 264h1v1h-1zM388 264h1v1h-1zM638 264h5v1h-5zM527 264h16v1h-16zM416 264h13v1h-13zM374 264h3v1h-3zM699 264h5v1h-5zM612 264h2v1h-2zM566 264h5v1h-5zM505 264h1v1h-1zM583 264h10v1h-10zM562 264h2v1h-2zM618 264h3v1h-3zM395 264h4v1h-4zM479 264h20v1h-20zM694 264h4v1h-4zM523 264h3v1h-3zM595 264h2v1h-2zM685 264h1v1h-1zM508 264h14v1h-14zM294 264h3v1h-3zM431 264h2v1h-2zM546 264h5v1h-5zM578 264h2v2h-2zM519 265h2v1h-2zM591 265h7v1h-7zM479 265h3v1h-3zM508 265h10v1h-10zM696 265h7v1h-7zM499 265h4v1h-4zM386 265h5v1h-5zM611 265h8v1h-8zM293 265h16v1h-16zM707 265h7v1h-7zM630 265h2v1h-2zM704 265h2v1h-2zM557 265h14v1h-14zM290 265h1v1h-1zM523 265h28v1h-28zM636 265h2v1h-2zM484 265h11v1h-11zM398 265h2v1h-2zM584 265h4v1h-4zM418 265h9v1h-9zM285 266h2v1h-2zM384 266h1v1h-1zM480 266h10v1h-10zM637 266h1v1h-1zM705 266h16v1h-16zM247 266h4v1h-4zM576 266h6v1h-6zM559 266h10v1h-10zM555 266h1v1h-1zM612 266h2v1h-2zM398 266h3v1h-3zM610 266h1v1h-1zM420 266h2v1h-2zM493 266h2v1h-2zM509 266h34v1h-34zM498 266h8v1h-8zM631 266h2v1h-2zM423 266h1v1h-1zM544 266h8v1h-8zM625 266h1v1h-1zM651 266h3v1h-3zM288 266h21v1h-21zM584 266h10v1h-10zM507 266h1v1h-1zM651 267h5v1h-5zM706 267h17v1h-17zM511 267h10v1h-10zM534 267h7v1h-7zM635 267h1v1h-1zM542 267h1v1h-1zM285 267h24v1h-24zM509 267h1v1h-1zM523 267h10v1h-10zM544 267h24v1h-24zM484 267h7v1h-7zM587 267h4v1h-4zM701 267h2v1h-2zM246 267h3v1h-3zM384 267h3v1h-3zM498 267h9v1h-9zM493 267h3v1h-3zM396 267h4v1h-4zM702 268h16v1h-16zM246 268h5v1h-5zM482 268h8v1h-8zM383 268h3v1h-3zM510 268h11v1h-11zM719 268h5v1h-5zM283 268h10v1h-10zM533 268h7v1h-7zM506 268h2v1h-2zM371 268h1v1h-1zM491 268h4v1h-4zM523 268h7v1h-7zM295 268h15v1h-15zM556 268h7v1h-7zM496 268h7v1h-7zM564 268h2v2h-2zM651 268h4v2h-4zM546 269h8v1h-8zM301 269h4v1h-4zM289 269h1v1h-1zM491 269h13v1h-13zM282 269h5v1h-5zM709 269h8v1h-8zM633 269h3v1h-3zM249 269h1v1h-1zM506 269h13v1h-13zM702 269h6v1h-6zM721 269h6v1h-6zM481 269h8v1h-8zM531 269h5v1h-5zM524 269h6v1h-6zM403 269h2v1h-2zM356 269h1v1h-1zM749 269h3v1h-3zM556 269h4v2h-4zM613 270h1v1h-1zM637 270h1v1h-1zM628 270h1v1h-1zM510 270h2v1h-2zM481 270h19v1h-19zM746 270h6v1h-6zM507 270h2v1h-2zM758 270h1v1h-1zM501 270h4v1h-4zM708 270h4v1h-4zM266 270h6v1h-6zM742 270h2v1h-2zM526 270h14v1h-14zM282 270h4v1h-4zM724 270h2v1h-2zM715 270h5v1h-5zM729 270h2v1h-2zM513 270h8v1h-8zM544 270h10v1h-10zM633 270h2v1h-2zM655 270h1v2h-1zM501 271h21v1h-21zM477 271h23v1h-23zM266 271h8v1h-8zM762 271h3v1h-3zM468 271h7v1h-7zM540 271h1v1h-1zM717 271h3v1h-3zM743 271h2v1h-2zM451 271h2v1h-2zM750 271h1v1h-1zM543 271h3v1h-3zM708 271h5v1h-5zM610 271h5v1h-5zM529 271h6v1h-6zM627 271h3v1h-3zM610 272h7v1h-7zM516 272h5v1h-5zM724 272h3v1h-3zM478 272h17v1h-17zM498 272h8v1h-8zM528 272h6v1h-6zM716 272h4v1h-4zM710 272h2v1h-2zM538 272h4v1h-4zM509 272h4v1h-4zM661 272h4v1h-4zM760 272h3v1h-3zM469 272h6v1h-6zM764 272h5v1h-5zM743 272h3v2h-3zM546 273h2v1h-2zM523 273h2v1h-2zM581 273h4v1h-4zM612 273h6v1h-6zM436 273h2v1h-2zM526 273h7v1h-7zM492 273h2v1h-2zM517 273h3v1h-3zM610 273h1v1h-1zM649 273h2v1h-2zM739 273h1v1h-1zM761 273h9v1h-9zM713 273h11v1h-11zM499 273h6v1h-6zM729 273h3v1h-3zM535 273h5v1h-5zM751 273h2v1h-2zM590 273h1v1h-1zM755 273h1v1h-1zM734 273h1v2h-1zM709 273h2v2h-2zM661 273h6v2h-6zM601 274h2v1h-2zM713 274h9v1h-9zM619 274h1v1h-1zM611 274h5v1h-5zM493 274h3v1h-3zM437 274h2v1h-2zM648 274h2v1h-2zM539 274h3v1h-3zM545 274h3v1h-3zM580 274h2v1h-2zM652 274h1v1h-1zM624 274h3v1h-3zM737 274h5v1h-5zM583 274h3v1h-3zM762 274h6v1h-6zM747 274h11v1h-11zM498 274h7v1h-7zM724 274h8v1h-8zM708 275h3v1h-3zM745 275h12v1h-12zM760 275h5v1h-5zM640 275h4v1h-4zM665 275h1v1h-1zM611 275h6v1h-6zM724 275h10v1h-10zM627 275h1v1h-1zM546 275h3v1h-3zM647 275h4v1h-4zM539 275h5v1h-5zM656 275h1v1h-1zM737 275h7v1h-7zM662 275h2v1h-2zM713 275h5v1h-5zM719 275h3v2h-3zM553 276h2v1h-2zM727 276h29v1h-29zM709 276h2v1h-2zM768 276h1v1h-1zM581 276h4v1h-4zM657 276h9v1h-9zM758 276h4v1h-4zM611 276h9v1h-9zM764 276h2v1h-2zM647 276h3v1h-3zM712 276h3v1h-3zM642 276h2v1h-2zM717 276h1v1h-1zM589 276h6v1h-6zM542 276h5v1h-5zM639 277h3v1h-3zM588 277h2v1h-2zM550 277h4v1h-4zM538 277h8v1h-8zM592 277h4v1h-4zM254 277h2v1h-2zM777 277h2v1h-2zM657 277h1v1h-1zM577 277h9v1h-9zM611 277h1v1h-1zM259 277h2v1h-2zM766 277h3v1h-3zM559 277h3v1h-3zM730 277h34v1h-34zM649 277h1v1h-1zM280 277h3v1h-3zM727 277h1v1h-1zM569 277h2v1h-2zM603 277h5v2h-5zM731 278h11v1h-11zM634 278h2v1h-2zM538 278h6v1h-6zM755 278h13v1h-13zM275 278h8v1h-8zM773 278h8v1h-8zM647 278h4v1h-4zM252 278h9v1h-9zM557 278h2v1h-2zM638 278h4v1h-4zM568 278h5v1h-5zM578 278h18v1h-18zM564 278h2v2h-2zM247 278h2v2h-2zM540 279h4v1h-4zM575 279h20v1h-20zM637 279h6v1h-6zM733 279h4v1h-4zM274 279h5v1h-5zM602 279h11v1h-11zM567 279h5v1h-5zM738 279h3v1h-3zM250 279h12v1h-12zM754 279h17v1h-17zM557 279h4v1h-4zM778 279h2v1h-2zM647 279h2v2h-2zM540 280h8v1h-8zM576 280h16v1h-16zM567 280h6v1h-6zM734 280h8v1h-8zM594 280h1v1h-1zM756 280h9v1h-9zM766 280h9v1h-9zM257 280h4v1h-4zM557 280h5v1h-5zM246 280h3v1h-3zM599 280h1v1h-1zM251 280h1v1h-1zM611 280h2v1h-2zM601 280h7v1h-7zM776 280h6v1h-6zM637 280h7v1h-7zM733 281h11v1h-11zM543 281h4v1h-4zM783 281h5v1h-5zM757 281h18v1h-18zM556 281h6v1h-6zM597 281h4v1h-4zM745 281h2v1h-2zM778 281h4v1h-4zM637 281h12v1h-12zM577 281h17v1h-17zM604 281h3v1h-3zM749 281h3v1h-3zM567 281h4v1h-4zM621 281h1v1h-1zM552 281h3v1h-3zM789 282h2v1h-2zM518 282h2v1h-2zM254 282h3v1h-3zM251 282h1v1h-1zM582 282h10v1h-10zM767 282h5v1h-5zM553 282h5v1h-5zM619 282h3v1h-3zM568 282h3v1h-3zM598 282h10v1h-10zM795 282h1v1h-1zM576 282h5v1h-5zM634 282h1v1h-1zM734 282h3v1h-3zM757 282h9v1h-9zM751 282h2v1h-2zM639 282h10v1h-10zM560 282h6v1h-6zM732 282h1v1h-1zM773 282h4v1h-4zM625 282h3v1h-3zM738 282h11v1h-11zM639 283h1v1h-1zM752 283h2v1h-2zM567 283h6v1h-6zM757 283h8v1h-8zM251 283h6v1h-6zM734 283h2v1h-2zM603 283h7v1h-7zM745 283h5v1h-5zM767 283h10v1h-10zM738 283h6v1h-6zM792 283h8v1h-8zM646 283h2v1h-2zM559 283h6v1h-6zM575 283h5v1h-5zM249 283h1v1h-1zM557 283h1v1h-1zM620 283h8v1h-8zM575 284h10v1h-10zM752 284h1v1h-1zM604 284h7v1h-7zM738 284h1v1h-1zM757 284h11v1h-11zM770 284h5v1h-5zM776 284h4v1h-4zM270 284h3v1h-3zM734 284h1v1h-1zM247 284h9v1h-9zM638 284h1v1h-1zM789 284h13v1h-13zM650 284h1v1h-1zM559 284h14v1h-14zM744 284h4v1h-4zM622 284h2v1h-2zM788 285h6v1h-6zM591 285h5v1h-5zM621 285h3v1h-3zM770 285h3v1h-3zM578 285h8v1h-8zM636 285h5v1h-5zM778 285h4v1h-4zM606 285h4v1h-4zM737 285h2v1h-2zM271 285h2v1h-2zM558 285h3v1h-3zM757 285h7v1h-7zM570 285h4v1h-4zM795 285h7v1h-7zM741 285h6v1h-6zM246 285h9v1h-9zM564 286h2v1h-2zM422 286h2v1h-2zM769 286h4v1h-4zM571 286h3v1h-3zM606 286h5v1h-5zM792 286h3v1h-3zM578 286h4v1h-4zM243 286h7v1h-7zM736 286h2v1h-2zM588 286h1v1h-1zM253 286h1v1h-1zM741 286h5v1h-5zM775 286h3v1h-3zM590 286h5v1h-5zM757 286h6v1h-6zM638 286h3v1h-3zM797 286h5v1h-5zM781 286h10v1h-10zM619 286h2v1h-2zM811 286h1v1h-1zM696 287h2v1h-2zM799 287h3v1h-3zM587 287h8v1h-8zM243 287h2v1h-2zM622 287h2v1h-2zM756 287h6v1h-6zM828 287h1v1h-1zM639 287h3v1h-3zM571 287h1v1h-1zM691 287h2v1h-2zM810 287h2v1h-2zM782 287h11v1h-11zM765 287h2v1h-2zM613 287h2v1h-2zM775 287h4v1h-4zM422 287h3v1h-3zM639 288h1v1h-1zM817 288h3v1h-3zM585 288h9v1h-9zM758 288h4v1h-4zM763 288h5v1h-5zM781 288h12v1h-12zM705 288h1v1h-1zM774 288h6v1h-6zM799 288h4v1h-4zM808 288h1v1h-1zM714 288h1v1h-1zM694 288h4v2h-4zM763 289h32v1h-32zM753 289h3v1h-3zM317 289h1v1h-1zM818 289h5v1h-5zM587 289h7v1h-7zM798 289h10v1h-10zM596 289h3v1h-3zM814 289h3v1h-3zM705 289h3v1h-3zM705 290h2v1h-2zM783 290h5v1h-5zM764 290h10v1h-10zM792 290h5v1h-5zM316 290h2v1h-2zM759 290h2v1h-2zM801 290h8v1h-8zM592 290h7v1h-7zM779 290h3v1h-3zM777 290h1v2h-1zM815 290h2v2h-2zM587 290h1v2h-1zM595 291h4v1h-4zM590 291h3v1h-3zM763 291h12v1h-12zM796 291h8v1h-8zM823 291h3v1h-3zM783 291h4v1h-4zM706 291h7v1h-7zM780 291h1v1h-1zM321 291h3v1h-3zM314 291h3v1h-3zM693 291h2v1h-2zM830 291h1v1h-1zM757 291h3v1h-3zM820 291h1v1h-1zM806 291h5v1h-5zM712 292h2v1h-2zM758 292h2v1h-2zM705 292h2v1h-2zM762 292h7v1h-7zM589 292h5v1h-5zM816 292h2v1h-2zM824 292h3v1h-3zM320 292h8v1h-8zM807 292h3v1h-3zM536 292h5v1h-5zM595 292h3v1h-3zM812 292h1v1h-1zM600 292h1v1h-1zM772 292h11v1h-11zM797 292h5v1h-5zM810 293h10v1h-10zM784 293h1v1h-1zM802 293h1v1h-1zM246 293h2v1h-2zM593 293h2v1h-2zM321 293h1v1h-1zM768 293h3v1h-3zM829 293h2v1h-2zM760 293h6v1h-6zM323 293h7v1h-7zM794 293h7v1h-7zM774 293h8v1h-8zM704 293h2v2h-2zM535 293h6v2h-6zM774 294h11v1h-11zM794 294h3v1h-3zM815 294h6v1h-6zM490 294h2v1h-2zM826 294h5v1h-5zM322 294h8v1h-8zM663 294h1v1h-1zM762 294h8v1h-8zM798 294h4v1h-4zM810 294h2v1h-2zM244 294h5v1h-5zM700 294h2v2h-2zM708 295h3v1h-3zM664 295h1v1h-1zM654 295h3v1h-3zM766 295h10v1h-10zM763 295h2v1h-2zM795 295h2v1h-2zM827 295h5v1h-5zM362 295h1v1h-1zM661 295h1v1h-1zM818 295h1v1h-1zM319 295h11v1h-11zM534 295h7v1h-7zM777 295h4v1h-4zM800 295h7v1h-7zM815 295h1v1h-1zM489 295h4v1h-4zM244 295h4v2h-4zM811 295h1v2h-1zM661 296h5v1h-5zM535 296h7v1h-7zM767 296h8v1h-8zM426 296h1v1h-1zM673 296h3v1h-3zM819 296h3v1h-3zM787 296h2v1h-2zM778 296h2v1h-2zM830 296h3v1h-3zM654 296h2v1h-2zM651 296h2v1h-2zM489 296h5v1h-5zM699 296h7v1h-7zM803 296h6v1h-6zM321 296h9v1h-9zM799 296h3v1h-3zM792 296h4v1h-4zM322 297h6v1h-6zM653 297h3v1h-3zM764 297h10v1h-10zM780 297h8v1h-8zM244 297h2v1h-2zM565 297h2v1h-2zM665 297h1v1h-1zM489 297h3v1h-3zM797 297h3v1h-3zM820 297h6v1h-6zM398 297h3v1h-3zM777 297h2v1h-2zM804 297h7v1h-7zM728 297h2v1h-2zM792 297h2v1h-2zM671 297h4v1h-4zM698 297h7v1h-7zM829 297h5v1h-5zM717 297h1v1h-1zM536 297h5v1h-5zM764 298h1v1h-1zM820 298h4v1h-4zM706 298h1v1h-1zM399 298h1v1h-1zM694 298h1v1h-1zM805 298h2v1h-2zM832 298h1v1h-1zM324 298h4v1h-4zM490 298h2v1h-2zM700 298h4v1h-4zM717 298h2v1h-2zM809 298h2v1h-2zM669 298h3v1h-3zM727 298h4v1h-4zM767 298h6v1h-6zM777 298h15v1h-15zM796 298h3v1h-3zM699 299h3v1h-3zM727 299h6v1h-6zM789 299h2v1h-2zM809 299h4v1h-4zM681 299h4v1h-4zM666 299h7v1h-7zM769 299h5v1h-5zM800 299h1v1h-1zM832 299h2v1h-2zM654 299h2v1h-2zM818 299h5v1h-5zM796 299h1v1h-1zM705 299h1v1h-1zM777 299h9v1h-9zM803 299h3v1h-3zM764 299h4v1h-4zM676 300h9v1h-9zM664 300h2v1h-2zM796 300h8v1h-8zM812 300h8v1h-8zM689 300h1v1h-1zM698 300h8v1h-8zM732 300h1v1h-1zM808 300h2v1h-2zM767 300h3v1h-3zM410 300h1v1h-1zM669 300h2v1h-2zM774 300h12v1h-12zM652 301h1v1h-1zM767 301h8v1h-8zM657 301h11v1h-11zM780 301h5v1h-5zM682 301h3v1h-3zM750 301h2v1h-2zM778 301h1v1h-1zM747 301h2v1h-2zM795 301h3v1h-3zM788 301h2v1h-2zM357 301h2v1h-2zM715 301h1v1h-1zM799 301h20v1h-20zM823 301h1v1h-1zM696 301h6v1h-6zM367 301h1v1h-1zM731 301h2v1h-2zM748 302h4v1h-4zM768 302h11v1h-11zM408 302h1v1h-1zM793 302h7v1h-7zM398 302h1v1h-1zM658 302h1v1h-1zM682 302h6v1h-6zM697 302h2v1h-2zM380 302h2v1h-2zM661 302h1v1h-1zM707 302h1v1h-1zM782 302h9v1h-9zM373 302h2v1h-2zM804 302h18v1h-18zM366 302h3v1h-3zM665 302h2v1h-2zM363 302h2v1h-2zM386 302h1v1h-1zM771 303h2v1h-2zM527 303h1v1h-1zM372 303h2v1h-2zM805 303h9v1h-9zM671 303h2v1h-2zM382 303h2v1h-2zM409 303h2v1h-2zM570 303h2v1h-2zM427 303h1v1h-1zM367 303h4v1h-4zM782 303h17v1h-17zM747 303h6v1h-6zM801 303h2v1h-2zM653 303h4v1h-4zM397 303h2v1h-2zM415 303h1v1h-1zM664 303h2v1h-2zM817 303h6v1h-6zM776 303h3v1h-3zM680 303h6v1h-6zM370 304h1v1h-1zM786 304h12v1h-12zM653 304h3v1h-3zM679 304h2v1h-2zM687 304h1v1h-1zM549 304h4v1h-4zM414 304h3v1h-3zM769 304h10v1h-10zM814 304h9v1h-9zM781 304h2v1h-2zM410 304h2v1h-2zM397 304h6v1h-6zM713 304h8v1h-8zM657 304h1v1h-1zM433 304h2v1h-2zM684 304h1v1h-1zM672 304h2v1h-2zM709 304h1v1h-1zM805 304h4v1h-4zM735 304h3v1h-3zM440 304h2v1h-2zM426 304h2v1h-2zM663 304h4v2h-4zM332 305h3v1h-3zM717 305h3v1h-3zM397 305h7v1h-7zM433 305h3v1h-3zM804 305h5v1h-5zM412 305h7v1h-7zM423 305h2v1h-2zM712 305h2v1h-2zM428 305h2v1h-2zM564 305h1v1h-1zM405 305h2v1h-2zM744 305h1v1h-1zM777 305h5v1h-5zM770 305h6v1h-6zM533 305h1v1h-1zM654 305h2v1h-2zM694 305h7v1h-7zM385 305h3v1h-3zM659 305h2v1h-2zM736 305h1v1h-1zM826 305h3v1h-3zM350 305h4v1h-4zM583 305h3v1h-3zM681 305h1v1h-1zM438 305h1v1h-1zM550 305h2v1h-2zM784 305h14v1h-14zM673 305h4v1h-4zM813 305h4v2h-4zM717 306h6v1h-6zM534 306h3v1h-3zM695 306h9v1h-9zM393 306h1v1h-1zM531 306h1v1h-1zM495 306h1v1h-1zM663 306h3v1h-3zM409 306h2v1h-2zM382 306h8v1h-8zM350 306h8v1h-8zM433 306h2v1h-2zM804 306h1v1h-1zM818 306h1v1h-1zM824 306h8v1h-8zM425 306h5v1h-5zM538 306h7v1h-7zM772 306h4v1h-4zM797 306h2v1h-2zM655 306h2v1h-2zM396 306h10v1h-10zM778 306h4v1h-4zM672 306h7v1h-7zM489 306h4v1h-4zM784 306h11v1h-11zM333 306h4v2h-4zM434 307h4v1h-4zM376 307h2v1h-2zM664 307h7v1h-7zM534 307h9v1h-9zM394 307h7v1h-7zM372 307h2v1h-2zM654 307h3v1h-3zM690 307h2v1h-2zM714 307h6v1h-6zM661 307h1v1h-1zM677 307h9v1h-9zM696 307h6v1h-6zM825 307h6v1h-6zM721 307h1v1h-1zM320 307h3v1h-3zM778 307h8v1h-8zM727 307h2v1h-2zM485 307h12v1h-12zM356 307h11v1h-11zM383 307h8v1h-8zM812 307h9v1h-9zM531 307h2v1h-2zM788 307h2v1h-2zM403 307h2v1h-2zM429 307h1v1h-1zM544 307h1v1h-1zM351 307h4v1h-4zM797 308h1v1h-1zM426 308h5v1h-5zM678 308h1v1h-1zM418 308h2v1h-2zM787 308h3v1h-3zM334 308h4v1h-4zM688 308h4v1h-4zM714 308h3v1h-3zM483 308h5v1h-5zM539 308h3v1h-3zM353 308h13v1h-13zM532 308h4v1h-4zM734 308h1v1h-1zM405 308h2v1h-2zM823 308h8v1h-8zM601 308h1v1h-1zM393 308h6v1h-6zM813 308h1v1h-1zM322 308h1v1h-1zM566 308h1v1h-1zM375 308h5v1h-5zM681 308h4v1h-4zM666 308h3v1h-3zM778 308h7v1h-7zM815 308h4v1h-4zM389 308h2v1h-2zM383 308h4v1h-4zM726 308h3v1h-3zM599 308h1v1h-1zM698 308h3v1h-3zM409 308h3v1h-3zM405 309h15v1h-15zM640 309h3v1h-3zM390 309h8v1h-8zM778 309h6v1h-6zM684 309h2v1h-2zM628 309h1v1h-1zM565 309h5v1h-5zM352 309h13v1h-13zM662 309h2v1h-2zM634 309h2v1h-2zM793 309h4v1h-4zM818 309h2v1h-2zM322 309h2v1h-2zM518 309h1v1h-1zM695 309h2v1h-2zM481 309h6v1h-6zM675 309h7v1h-7zM531 309h6v1h-6zM698 309h1v1h-1zM827 309h4v1h-4zM714 309h5v1h-5zM704 309h1v1h-1zM700 309h1v1h-1zM624 309h2v1h-2zM689 309h3v1h-3zM721 309h8v2h-8zM335 309h4v2h-4zM785 309h4v2h-4zM372 309h12v2h-12zM780 310h2v1h-2zM676 310h3v1h-3zM518 310h2v1h-2zM496 310h2v1h-2zM534 310h9v1h-9zM479 310h6v1h-6zM715 310h4v1h-4zM642 310h1v1h-1zM530 310h3v1h-3zM821 310h1v1h-1zM578 310h1v1h-1zM659 310h6v1h-6zM733 310h6v1h-6zM410 310h11v1h-11zM762 310h1v1h-1zM826 310h4v1h-4zM767 310h1v1h-1zM356 310h5v1h-5zM544 310h2v1h-2zM685 310h1v1h-1zM548 310h4v1h-4zM769 310h2v1h-2zM636 310h1v1h-1zM365 310h1v1h-1zM486 310h2v1h-2zM389 310h8v1h-8zM351 310h4v1h-4zM786 311h9v1h-9zM539 311h13v1h-13zM659 311h7v1h-7zM687 311h1v1h-1zM632 311h1v1h-1zM415 311h6v1h-6zM761 311h1v1h-1zM620 311h2v1h-2zM346 311h3v1h-3zM425 311h3v1h-3zM763 311h5v1h-5zM572 311h3v1h-3zM780 311h1v1h-1zM677 311h3v1h-3zM371 311h13v1h-13zM352 311h3v1h-3zM730 311h1v1h-1zM515 311h1v1h-1zM479 311h11v1h-11zM525 311h11v1h-11zM803 311h3v1h-3zM578 311h3v1h-3zM714 311h14v1h-14zM695 311h1v1h-1zM747 311h2v1h-2zM735 311h3v1h-3zM752 311h2v1h-2zM391 311h6v1h-6zM812 311h2v2h-2zM436 312h2v1h-2zM751 312h4v1h-4zM390 312h8v1h-8zM416 312h1v1h-1zM377 312h8v1h-8zM686 312h3v1h-3zM538 312h2v1h-2zM757 312h1v1h-1zM427 312h1v1h-1zM621 312h2v1h-2zM630 312h2v1h-2zM748 312h1v1h-1zM701 312h3v1h-3zM493 312h2v1h-2zM605 312h3v1h-3zM726 312h1v1h-1zM542 312h10v1h-10zM786 312h1v1h-1zM634 312h1v1h-1zM410 312h1v1h-1zM477 312h15v1h-15zM714 312h11v1h-11zM676 312h1v1h-1zM523 312h12v1h-12zM791 312h4v1h-4zM554 312h2v1h-2zM652 312h3v1h-3zM788 312h2v1h-2zM773 312h4v1h-4zM803 312h2v1h-2zM345 312h3v1h-3zM723 313h4v1h-4zM685 313h3v1h-3zM765 313h1v1h-1zM477 313h14v1h-14zM799 313h2v1h-2zM769 313h1v1h-1zM377 313h5v1h-5zM675 313h2v1h-2zM746 313h9v1h-9zM702 313h1v1h-1zM623 313h3v1h-3zM627 313h3v1h-3zM433 313h5v1h-5zM619 313h3v1h-3zM776 313h1v1h-1zM542 313h1v1h-1zM672 313h2v1h-2zM792 313h2v1h-2zM544 313h5v1h-5zM530 313h5v1h-5zM552 313h1v1h-1zM786 313h4v1h-4zM678 313h2v1h-2zM537 313h3v1h-3zM577 313h2v1h-2zM582 313h2v1h-2zM715 313h5v1h-5zM525 313h4v1h-4zM605 313h2v1h-2zM631 313h1v1h-1zM570 313h3v1h-3zM409 313h3v1h-3zM396 313h3v2h-3zM383 313h2v2h-2zM690 314h3v1h-3zM426 314h5v1h-5zM791 314h3v1h-3zM405 314h3v1h-3zM358 314h2v1h-2zM527 314h10v1h-10zM433 314h6v1h-6zM378 314h3v1h-3zM605 314h1v1h-1zM565 314h2v1h-2zM723 314h3v1h-3zM578 314h1v1h-1zM781 314h2v1h-2zM410 314h2v1h-2zM547 314h2v1h-2zM707 314h1v1h-1zM388 314h3v1h-3zM798 314h4v1h-4zM730 314h1v1h-1zM715 314h6v1h-6zM620 314h7v1h-7zM570 314h4v1h-4zM558 314h2v1h-2zM594 314h1v1h-1zM750 314h4v1h-4zM476 314h20v1h-20zM345 314h3v1h-3zM668 314h1v1h-1zM425 315h1v1h-1zM716 315h2v1h-2zM548 315h3v1h-3zM483 315h6v1h-6zM743 315h2v1h-2zM575 315h3v1h-3zM730 315h2v1h-2zM496 315h2v1h-2zM721 315h5v1h-5zM418 315h2v1h-2zM382 315h2v1h-2zM345 315h2v1h-2zM429 315h9v1h-9zM397 315h3v1h-3zM528 315h10v1h-10zM393 315h3v1h-3zM282 315h2v1h-2zM740 315h1v1h-1zM476 315h3v1h-3zM749 315h1v1h-1zM404 315h4v1h-4zM423 315h1v1h-1zM624 315h3v1h-3zM492 315h1v1h-1zM523 315h3v1h-3zM707 315h6v1h-6zM388 315h2v1h-2zM757 315h3v1h-3zM311 315h2v1h-2zM515 315h3v1h-3zM654 315h1v1h-1zM774 315h2v2h-2zM796 315h7v2h-7zM379 316h1v1h-1zM283 316h1v1h-1zM532 316h5v1h-5zM669 316h1v1h-1zM736 316h3v1h-3zM632 316h1v1h-1zM553 316h3v1h-3zM761 316h1v1h-1zM545 316h1v1h-1zM473 316h5v1h-5zM628 316h1v1h-1zM642 316h1v1h-1zM482 316h7v1h-7zM574 316h4v1h-4zM520 316h2v1h-2zM808 316h1v1h-1zM683 316h3v1h-3zM620 316h7v1h-7zM435 316h3v1h-3zM403 316h6v1h-6zM493 316h5v1h-5zM516 316h2v1h-2zM335 316h3v1h-3zM595 316h2v1h-2zM717 316h1v1h-1zM558 316h2v1h-2zM549 316h2v1h-2zM743 316h3v1h-3zM721 316h3v1h-3zM730 316h3v1h-3zM603 316h1v1h-1zM705 316h8v1h-8zM339 316h2v1h-2zM418 316h6v1h-6zM755 316h1v1h-1zM569 316h2v1h-2zM344 316h2v1h-2zM312 316h1v2h-1zM794 316h1v2h-1zM653 316h1v2h-1zM774 317h1v1h-1zM797 317h4v1h-4zM517 317h1v1h-1zM630 317h3v1h-3zM627 317h1v1h-1zM550 317h4v1h-4zM483 317h2v1h-2zM532 317h4v1h-4zM743 317h7v1h-7zM473 317h4v1h-4zM603 317h2v1h-2zM611 317h1v1h-1zM339 317h6v1h-6zM495 317h3v1h-3zM755 317h2v1h-2zM621 317h4v1h-4zM584 317h1v1h-1zM574 317h6v1h-6zM480 317h2v1h-2zM558 317h5v1h-5zM761 317h5v1h-5zM718 317h4v1h-4zM420 317h4v1h-4zM373 317h6v1h-6zM489 317h4v1h-4zM671 317h1v2h-1zM568 317h3v2h-3zM802 317h3v2h-3zM707 318h2v1h-2zM422 318h2v1h-2zM468 318h2v1h-2zM559 318h7v1h-7zM472 318h4v1h-4zM764 318h3v1h-3zM572 318h3v1h-3zM584 318h2v1h-2zM632 318h3v1h-3zM480 318h15v1h-15zM429 318h2v1h-2zM391 318h1v1h-1zM550 318h3v1h-3zM758 318h4v1h-4zM576 318h5v1h-5zM819 318h2v1h-2zM556 318h1v1h-1zM743 318h6v1h-6zM649 318h1v1h-1zM681 318h4v1h-4zM496 318h3v1h-3zM601 318h6v1h-6zM779 318h2v1h-2zM610 318h9v1h-9zM338 318h2v1h-2zM531 318h11v1h-11zM372 318h9v1h-9zM382 318h3v1h-3zM703 318h3v1h-3zM624 318h5v1h-5zM595 318h1v1h-1zM342 318h3v2h-3zM559 319h11v1h-11zM771 319h2v1h-2zM549 319h1v1h-1zM518 319h2v1h-2zM733 319h1v1h-1zM609 319h7v1h-7zM675 319h2v1h-2zM481 319h4v1h-4zM531 319h10v1h-10zM720 319h1v1h-1zM521 319h3v1h-3zM745 319h2v1h-2zM819 319h1v1h-1zM759 319h2v1h-2zM381 319h7v1h-7zM369 319h2v1h-2zM360 319h2v1h-2zM762 319h4v1h-4zM571 319h2v1h-2zM355 319h2v1h-2zM626 319h2v1h-2zM776 319h1v1h-1zM599 319h2v1h-2zM351 319h2v1h-2zM529 319h1v1h-1zM419 319h1v1h-1zM492 319h7v1h-7zM398 319h5v1h-5zM696 319h2v1h-2zM577 319h2v1h-2zM583 319h12v1h-12zM620 319h3v1h-3zM365 319h1v1h-1zM468 319h6v1h-6zM801 319h4v1h-4zM373 319h6v1h-6zM405 318h2v3h-2zM555 319h2v2h-2zM729 319h2v2h-2zM789 320h5v1h-5zM482 320h5v1h-5zM583 320h2v1h-2zM776 320h2v1h-2zM689 320h2v1h-2zM546 320h1v1h-1zM578 320h1v1h-1zM674 320h4v1h-4zM518 320h1v1h-1zM681 320h2v1h-2zM594 320h2v1h-2zM770 320h3v1h-3zM611 320h4v1h-4zM756 320h3v1h-3zM620 320h1v1h-1zM588 320h4v1h-4zM805 320h2v1h-2zM831 320h1v1h-1zM380 320h12v1h-12zM373 320h1v1h-1zM559 320h9v1h-9zM812 320h3v1h-3zM530 320h11v1h-11zM521 320h7v1h-7zM400 320h3v1h-3zM466 320h8v2h-8zM707 321h2v1h-2zM546 321h2v1h-2zM572 321h1v1h-1zM812 321h2v1h-2zM715 321h1v1h-1zM724 321h4v1h-4zM402 321h6v1h-6zM371 321h1v1h-1zM519 321h1v1h-1zM730 321h1v1h-1zM481 321h6v1h-6zM386 321h7v1h-7zM750 321h2v1h-2zM585 321h2v1h-2zM374 321h11v1h-11zM754 321h4v1h-4zM523 321h3v1h-3zM676 321h7v1h-7zM639 321h1v1h-1zM432 321h3v1h-3zM778 321h4v1h-4zM831 321h3v1h-3zM802 321h2v1h-2zM529 321h6v1h-6zM489 320h9v3h-9zM342 320h2v3h-2zM623 321h2v2h-2zM387 322h3v1h-3zM460 322h3v1h-3zM518 322h2v1h-2zM432 322h2v1h-2zM528 322h8v1h-8zM377 322h8v1h-8zM524 322h2v1h-2zM827 322h2v1h-2zM483 322h5v1h-5zM755 322h3v1h-3zM403 322h3v1h-3zM411 322h2v1h-2zM614 322h3v1h-3zM801 322h2v1h-2zM576 322h2v1h-2zM465 322h10v1h-10zM394 322h2v1h-2zM715 322h2v1h-2zM830 322h5v1h-5zM399 322h2v1h-2zM820 322h1v1h-1zM408 322h2v1h-2zM754 323h3v1h-3zM465 323h12v1h-12zM800 323h3v1h-3zM341 323h3v1h-3zM719 323h1v1h-1zM320 323h1v1h-1zM393 323h4v1h-4zM537 323h8v1h-8zM822 323h2v1h-2zM481 323h16v1h-16zM646 323h1v1h-1zM530 323h6v1h-6zM387 323h5v1h-5zM685 323h2v1h-2zM460 323h2v1h-2zM613 323h6v1h-6zM433 323h2v1h-2zM403 323h12v1h-12zM830 323h6v1h-6zM399 323h3v1h-3zM714 323h2v1h-2zM723 323h2v1h-2zM525 323h1v1h-1zM377 323h9v1h-9zM382 324h15v1h-15zM644 324h3v1h-3zM798 324h2v1h-2zM529 324h15v1h-15zM790 324h2v1h-2zM522 324h4v1h-4zM319 324h3v1h-3zM546 324h1v1h-1zM405 324h5v1h-5zM488 324h8v1h-8zM479 324h8v1h-8zM787 324h2v1h-2zM794 324h1v1h-1zM340 324h4v1h-4zM465 324h1v1h-1zM821 324h3v1h-3zM677 324h2v1h-2zM653 324h1v1h-1zM639 324h1v1h-1zM433 324h1v1h-1zM439 324h5v1h-5zM459 324h3v1h-3zM582 324h2v1h-2zM614 324h2v1h-2zM680 324h3v1h-3zM831 324h6v1h-6zM469 324h9v1h-9zM657 324h1v2h-1zM477 325h17v1h-17zM523 325h2v1h-2zM471 325h4v1h-4zM809 325h3v1h-3zM393 325h7v1h-7zM606 325h2v1h-2zM440 325h7v1h-7zM723 325h3v1h-3zM782 325h2v1h-2zM727 325h2v1h-2zM831 325h7v1h-7zM385 325h3v1h-3zM786 325h10v1h-10zM547 325h4v1h-4zM677 325h5v1h-5zM416 325h2v1h-2zM531 325h8v1h-8zM389 325h2v1h-2zM631 325h1v1h-1zM599 325h1v1h-1zM820 325h1v1h-1zM645 325h1v2h-1zM547 326h6v1h-6zM341 326h3v1h-3zM600 326h1v1h-1zM647 326h2v1h-2zM522 326h7v1h-7zM804 326h2v1h-2zM495 326h1v1h-1zM832 326h5v1h-5zM633 326h4v1h-4zM812 326h1v1h-1zM772 326h2v1h-2zM410 326h2v1h-2zM670 326h1v1h-1zM790 326h1v1h-1zM532 326h7v1h-7zM722 326h8v1h-8zM748 326h1v1h-1zM787 326h2v1h-2zM403 326h3v1h-3zM477 326h6v1h-6zM650 326h2v1h-2zM453 326h2v1h-2zM678 326h5v1h-5zM390 326h12v1h-12zM462 326h14v1h-14zM792 326h1v1h-1zM484 326h10v1h-10zM809 326h2v2h-2zM613 327h1v1h-1zM725 327h2v1h-2zM798 327h2v1h-2zM397 327h4v1h-4zM422 327h2v1h-2zM647 327h5v1h-5zM392 327h3v1h-3zM452 327h3v1h-3zM533 327h2v1h-2zM440 327h1v1h-1zM608 327h3v1h-3zM680 327h2v1h-2zM793 327h4v1h-4zM476 327h19v1h-19zM426 327h7v1h-7zM341 327h2v1h-2zM526 327h3v1h-3zM581 327h3v1h-3zM804 327h1v1h-1zM654 327h2v1h-2zM833 327h5v1h-5zM463 327h9v1h-9zM402 327h5v1h-5zM638 327h3v1h-3zM630 327h1v1h-1zM817 327h3v1h-3zM772 327h3v2h-3zM834 328h4v1h-4zM450 328h5v1h-5zM577 328h4v1h-4zM423 328h5v1h-5zM810 328h3v1h-3zM651 328h4v1h-4zM642 328h7v1h-7zM402 328h3v1h-3zM725 328h1v1h-1zM797 328h3v1h-3zM785 328h1v1h-1zM390 328h1v1h-1zM591 328h3v1h-3zM474 328h23v1h-23zM588 328h1v1h-1zM637 328h3v1h-3zM430 328h3v1h-3zM440 328h3v1h-3zM613 328h2v1h-2zM678 328h2v1h-2zM459 328h3v1h-3zM585 328h1v1h-1zM522 327h1v3h-1zM464 328h8v2h-8zM456 328h2v2h-2zM805 328h2v2h-2zM622 329h1v1h-1zM797 329h4v1h-4zM509 329h2v1h-2zM384 329h1v1h-1zM600 329h4v1h-4zM611 329h2v1h-2zM533 329h2v1h-2zM793 329h1v1h-1zM576 329h6v1h-6zM426 329h4v1h-4zM518 329h1v1h-1zM615 329h1v1h-1zM592 329h4v1h-4zM528 329h1v1h-1zM632 329h3v1h-3zM442 329h2v1h-2zM641 329h6v1h-6zM450 329h4v1h-4zM776 329h1v1h-1zM814 329h2v1h-2zM824 329h2v1h-2zM400 329h4v1h-4zM408 329h3v1h-3zM835 329h3v1h-3zM811 329h2v1h-2zM388 329h5v1h-5zM687 329h2v1h-2zM475 329h23v1h-23zM649 329h4v1h-4zM432 329h3v1h-3zM654 329h1v1h-1zM755 329h1v1h-1zM668 329h3v2h-3zM439 329h2v2h-2zM465 330h3v1h-3zM528 330h2v1h-2zM519 330h8v1h-8zM641 330h4v1h-4zM486 330h1v1h-1zM578 330h4v1h-4zM835 330h4v1h-4zM289 330h1v1h-1zM798 330h1v1h-1zM677 330h12v1h-12zM470 330h14v1h-14zM401 330h2v1h-2zM505 330h10v1h-10zM452 330h8v1h-8zM493 330h5v1h-5zM533 330h1v1h-1zM648 330h3v1h-3zM616 330h4v1h-4zM425 330h2v1h-2zM612 330h1v1h-1zM791 330h4v1h-4zM545 330h2v1h-2zM407 330h5v1h-5zM442 330h4v1h-4zM600 330h5v1h-5zM814 330h1v1h-1zM590 330h7v1h-7zM674 330h2v1h-2zM774 330h1v2h-1zM431 330h5v2h-5zM472 331h14v1h-14zM406 331h3v1h-3zM329 331h1v1h-1zM794 331h8v1h-8zM403 331h1v1h-1zM643 331h2v1h-2zM573 331h1v1h-1zM456 331h2v1h-2zM674 331h10v1h-10zM506 331h5v1h-5zM819 331h1v1h-1zM838 331h3v1h-3zM647 331h4v1h-4zM755 331h1v1h-1zM514 331h1v1h-1zM490 331h9v1h-9zM525 331h5v1h-5zM578 331h3v1h-3zM685 331h4v1h-4zM791 331h1v1h-1zM591 331h2v1h-2zM617 331h1v1h-1zM667 331h1v1h-1zM737 331h1v1h-1zM463 331h5v1h-5zM425 331h4v1h-4zM676 332h3v1h-3zM405 332h3v1h-3zM441 332h2v1h-2zM418 332h2v1h-2zM432 332h5v1h-5zM643 332h8v1h-8zM510 332h2v1h-2zM486 332h1v1h-1zM819 332h3v1h-3zM595 332h3v1h-3zM789 332h1v1h-1zM500 332h1v1h-1zM623 332h3v1h-3zM607 332h1v1h-1zM455 332h4v1h-4zM795 332h4v1h-4zM425 332h5v1h-5zM491 332h6v1h-6zM463 332h21v1h-21zM687 332h2v1h-2zM635 332h1v1h-1zM507 332h1v1h-1zM578 332h2v1h-2zM679 333h2v1h-2zM463 333h20v1h-20zM583 333h2v1h-2zM395 333h2v1h-2zM434 333h3v1h-3zM819 333h1v1h-1zM823 333h2v1h-2zM632 333h3v1h-3zM640 333h2v1h-2zM418 333h4v1h-4zM617 333h2v1h-2zM643 333h4v1h-4zM598 333h1v1h-1zM792 333h5v1h-5zM621 333h4v1h-4zM781 333h10v1h-10zM649 333h1v1h-1zM439 333h5v1h-5zM511 333h4v1h-4zM424 333h7v1h-7zM499 333h5v1h-5zM813 333h3v1h-3zM455 333h6v1h-6zM528 333h2v2h-2zM622 334h1v1h-1zM462 334h4v1h-4zM470 334h3v1h-3zM785 334h8v1h-8zM629 334h5v1h-5zM418 334h8v1h-8zM573 334h1v1h-1zM438 334h9v1h-9zM455 334h2v1h-2zM538 334h2v1h-2zM489 334h3v1h-3zM475 334h3v1h-3zM772 334h2v1h-2zM781 334h2v1h-2zM812 334h4v1h-4zM459 334h1v1h-1zM338 334h3v1h-3zM395 334h1v1h-1zM645 334h5v1h-5zM551 334h1v1h-1zM429 334h2v1h-2zM639 334h1v1h-1zM583 334h3v1h-3zM822 334h3v1h-3zM501 334h3v1h-3zM576 334h1v1h-1zM508 334h6v2h-6zM456 335h9v1h-9zM621 335h3v1h-3zM500 335h5v1h-5zM822 335h2v1h-2zM437 335h2v1h-2zM629 335h11v1h-11zM685 335h2v1h-2zM753 335h1v1h-1zM657 335h1v1h-1zM652 335h1v1h-1zM537 335h7v1h-7zM533 335h1v1h-1zM673 335h2v1h-2zM772 335h1v1h-1zM810 335h2v1h-2zM445 335h3v1h-3zM419 335h7v1h-7zM789 335h6v1h-6zM526 335h5v1h-5zM575 335h1v1h-1zM480 335h5v1h-5zM337 335h4v1h-4zM476 335h2v1h-2zM813 335h3v1h-3zM645 335h4v1h-4zM440 335h2v1h-2zM486 335h8v1h-8zM780 335h6v2h-6zM654 335h1v2h-1zM546 336h2v1h-2zM564 336h2v1h-2zM475 336h13v1h-13zM490 336h4v1h-4zM773 336h3v1h-3zM438 336h3v1h-3zM430 336h1v1h-1zM607 336h2v1h-2zM673 336h3v1h-3zM523 336h7v1h-7zM471 336h3v1h-3zM598 336h1v1h-1zM457 336h8v1h-8zM538 336h7v1h-7zM315 336h2v1h-2zM661 336h3v1h-3zM612 336h4v1h-4zM549 336h2v1h-2zM502 336h7v1h-7zM791 336h4v1h-4zM623 336h5v1h-5zM683 336h2v1h-2zM338 336h2v1h-2zM421 336h2v1h-2zM822 336h3v1h-3zM686 336h1v1h-1zM833 336h1v1h-1zM631 336h7v1h-7zM755 336h4v1h-4zM555 337h2v1h-2zM771 337h5v1h-5zM687 337h1v1h-1zM490 337h1v1h-1zM499 337h7v1h-7zM565 337h2v1h-2zM582 337h1v1h-1zM559 337h1v1h-1zM561 337h2v1h-2zM754 337h2v1h-2zM410 337h2v1h-2zM463 337h25v1h-25zM781 337h5v1h-5zM791 337h2v1h-2zM679 337h1v1h-1zM494 337h3v1h-3zM416 337h3v1h-3zM536 337h3v1h-3zM619 337h3v1h-3zM507 337h8v1h-8zM590 337h2v1h-2zM607 337h1v1h-1zM832 337h1v1h-1zM672 337h5v1h-5zM634 337h4v1h-4zM623 337h2v1h-2zM778 337h1v1h-1zM550 337h2v1h-2zM399 337h2v1h-2zM455 337h6v1h-6zM823 337h3v2h-3zM654 337h3v2h-3zM814 337h2v2h-2zM540 337h8v2h-8zM455 338h24v1h-24zM838 338h1v1h-1zM397 338h1v1h-1zM481 338h7v1h-7zM666 338h2v1h-2zM619 338h1v1h-1zM438 338h6v1h-6zM659 338h1v1h-1zM621 338h2v1h-2zM808 338h1v1h-1zM418 338h1v1h-1zM830 338h3v1h-3zM840 338h1v1h-1zM551 338h4v1h-4zM498 338h17v1h-17zM792 338h2v1h-2zM409 338h4v1h-4zM674 338h3v1h-3zM678 338h2v1h-2zM594 338h1v1h-1zM493 338h4v1h-4zM629 338h9v1h-9zM585 338h1v1h-1zM650 338h1v1h-1zM521 337h1v3h-1zM578 338h5v2h-5zM610 338h3v2h-3zM626 338h1v2h-1zM548 339h3v1h-3zM396 339h3v1h-3zM653 339h3v1h-3zM618 339h1v1h-1zM492 339h24v1h-24zM454 339h23v1h-23zM484 339h6v1h-6zM431 339h1v1h-1zM789 339h1v1h-1zM630 339h5v1h-5zM800 339h2v1h-2zM639 339h8v1h-8zM439 339h6v1h-6zM636 339h2v1h-2zM539 339h2v1h-2zM829 339h2v1h-2zM677 339h2v1h-2zM584 339h1v1h-1zM408 339h5v1h-5zM837 339h7v1h-7zM834 339h2v1h-2zM665 339h2v1h-2zM475 340h1v1h-1zM454 340h8v1h-8zM545 340h1v1h-1zM507 340h9v1h-9zM429 340h3v1h-3zM634 340h5v1h-5zM410 340h2v1h-2zM581 340h3v1h-3zM679 340h1v1h-1zM594 340h2v1h-2zM435 340h3v1h-3zM815 340h2v1h-2zM569 340h3v1h-3zM463 340h9v1h-9zM616 340h7v1h-7zM482 340h6v1h-6zM397 340h2v1h-2zM549 340h2v1h-2zM491 340h12v1h-12zM416 340h2v1h-2zM609 340h2v1h-2zM834 340h5v1h-5zM641 340h17v1h-17zM597 340h6v1h-6zM672 340h1v1h-1zM800 341h3v1h-3zM480 341h4v1h-4zM834 341h1v1h-1zM431 341h1v1h-1zM463 341h4v1h-4zM646 341h11v1h-11zM529 341h2v1h-2zM434 341h6v1h-6zM837 341h2v1h-2zM817 341h1v1h-1zM470 341h8v1h-8zM571 341h2v1h-2zM597 341h4v1h-4zM504 341h6v1h-6zM544 341h2v1h-2zM633 341h6v1h-6zM487 341h16v1h-16zM819 341h5v1h-5zM454 341h6v1h-6zM670 341h3v1h-3zM658 341h1v1h-1zM420 341h1v1h-1zM411 341h1v1h-1zM550 341h2v1h-2zM576 341h1v1h-1zM849 341h2v1h-2zM642 341h2v1h-2zM512 341h3v2h-3zM616 341h6v2h-6zM434 342h7v1h-7zM581 342h1v1h-1zM592 342h2v1h-2zM799 342h5v1h-5zM646 342h4v1h-4zM479 342h24v1h-24zM461 342h9v1h-9zM608 342h3v1h-3zM642 342h1v1h-1zM504 342h4v1h-4zM847 342h3v1h-3zM549 342h3v1h-3zM579 342h1v1h-1zM597 342h1v1h-1zM793 342h3v1h-3zM472 342h3v1h-3zM651 342h9v1h-9zM454 342h3v1h-3zM545 342h2v1h-2zM632 342h5v1h-5zM458 342h2v1h-2zM476 342h2v1h-2zM840 342h3v1h-3zM411 342h7v1h-7zM671 342h2v2h-2zM472 343h11v1h-11zM535 343h1v1h-1zM642 343h17v1h-17zM615 343h8v1h-8zM454 343h8v1h-8zM675 343h2v1h-2zM629 343h8v1h-8zM510 343h5v1h-5zM489 343h6v1h-6zM546 343h1v1h-1zM624 343h4v1h-4zM506 343h2v1h-2zM566 343h2v1h-2zM413 343h1v1h-1zM814 343h2v1h-2zM608 343h2v1h-2zM792 343h2v1h-2zM801 343h2v1h-2zM538 343h1v1h-1zM434 343h11v1h-11zM584 343h1v1h-1zM847 343h5v1h-5zM591 343h2v1h-2zM498 343h7v1h-7zM853 343h2v1h-2zM411 343h1v1h-1zM486 343h2v1h-2zM663 343h4v1h-4zM464 343h6v1h-6zM538 344h3v1h-3zM621 344h3v1h-3zM407 344h1v1h-1zM626 344h6v1h-6zM637 344h1v1h-1zM813 344h2v1h-2zM454 344h29v1h-29zM608 344h3v1h-3zM485 344h16v1h-16zM791 344h2v1h-2zM655 344h3v1h-3zM822 344h1v1h-1zM848 344h6v1h-6zM795 344h1v1h-1zM513 344h3v1h-3zM659 344h2v1h-2zM434 344h8v1h-8zM613 344h5v1h-5zM511 344h1v1h-1zM590 344h4v1h-4zM648 344h3v1h-3zM682 344h1v1h-1zM642 344h2v1h-2zM664 344h6v2h-6zM656 345h2v1h-2zM618 345h4v1h-4zM641 345h4v1h-4zM683 345h1v1h-1zM501 345h2v1h-2zM841 345h5v1h-5zM486 345h13v1h-13zM596 345h1v1h-1zM434 345h6v1h-6zM812 345h4v1h-4zM837 345h2v1h-2zM533 345h1v1h-1zM409 345h1v1h-1zM625 345h7v1h-7zM455 345h16v1h-16zM474 345h10v1h-10zM639 345h1v1h-1zM592 345h3v1h-3zM562 345h1v1h-1zM675 345h3v1h-3zM536 345h5v1h-5zM805 345h1v1h-1zM509 345h4v2h-4zM844 346h2v1h-2zM638 346h5v1h-5zM600 346h1v1h-1zM627 346h7v1h-7zM561 346h2v1h-2zM811 346h3v1h-3zM677 346h3v1h-3zM612 346h2v1h-2zM656 346h4v1h-4zM418 346h1v1h-1zM411 346h2v1h-2zM404 346h4v1h-4zM839 346h3v1h-3zM485 346h21v1h-21zM475 346h2v1h-2zM827 346h1v1h-1zM595 346h2v1h-2zM540 346h2v1h-2zM644 346h4v1h-4zM456 346h16v1h-16zM661 346h6v1h-6zM414 346h1v1h-1zM609 346h2v1h-2zM683 346h2v1h-2zM432 346h6v1h-6zM672 346h1v1h-1zM410 347h6v1h-6zM630 347h3v1h-3zM527 347h1v1h-1zM655 347h1v1h-1zM643 347h5v1h-5zM822 347h2v1h-2zM652 347h2v1h-2zM496 347h20v1h-20zM446 347h2v1h-2zM430 347h4v1h-4zM472 347h4v1h-4zM661 347h1v1h-1zM405 347h2v1h-2zM658 347h2v1h-2zM634 347h1v1h-1zM547 347h1v1h-1zM456 347h13v1h-13zM623 347h2v1h-2zM481 347h2v1h-2zM493 347h1v1h-1zM486 347h5v1h-5zM802 347h2v1h-2zM641 347h1v2h-1zM564 348h2v1h-2zM828 348h2v1h-2zM629 348h1v1h-1zM512 348h3v1h-3zM644 348h3v1h-3zM648 348h17v1h-17zM478 348h3v1h-3zM472 348h5v1h-5zM496 348h11v1h-11zM450 348h21v1h-21zM485 348h4v1h-4zM411 348h3v1h-3zM633 348h2v1h-2zM542 348h2v2h-2zM493 348h2v2h-2zM638 348h2v2h-2zM812 349h2v1h-2zM826 349h2v1h-2zM563 349h1v1h-1zM628 349h4v1h-4zM654 349h3v1h-3zM497 349h12v1h-12zM552 349h2v1h-2zM449 349h16v1h-16zM831 349h1v1h-1zM849 349h3v1h-3zM539 349h2v1h-2zM436 349h3v1h-3zM545 349h5v1h-5zM648 349h3v1h-3zM576 349h1v1h-1zM478 349h12v1h-12zM514 349h1v2h-1zM647 350h2v1h-2zM479 350h6v1h-6zM601 350h2v1h-2zM452 350h3v1h-3zM486 350h4v1h-4zM559 350h4v1h-4zM449 350h1v1h-1zM456 350h11v1h-11zM847 350h6v1h-6zM627 350h3v1h-3zM499 350h3v1h-3zM418 350h1v1h-1zM545 350h6v1h-6zM620 350h1v1h-1zM571 350h8v1h-8zM475 350h2v1h-2zM543 350h1v1h-1zM580 350h1v1h-1zM503 350h8v2h-8zM613 350h2v2h-2zM596 351h2v1h-2zM838 351h1v1h-1zM842 351h6v1h-6zM637 351h1v1h-1zM643 351h2v1h-2zM456 351h5v1h-5zM575 351h2v1h-2zM857 351h3v1h-3zM471 351h18v1h-18zM671 351h1v1h-1zM550 351h3v1h-3zM602 351h1v1h-1zM850 351h4v1h-4zM572 351h2v1h-2zM640 351h1v1h-1zM562 351h1v1h-1zM626 351h4v1h-4zM499 351h2v1h-2zM493 351h1v1h-1zM463 351h2v1h-2zM512 351h4v1h-4zM668 351h1v1h-1zM523 352h2v1h-2zM572 352h4v1h-4zM664 352h1v1h-1zM852 352h1v1h-1zM667 352h6v1h-6zM550 352h1v1h-1zM858 352h1v1h-1zM844 352h4v1h-4zM490 352h3v1h-3zM498 352h2v1h-2zM657 352h4v1h-4zM468 352h19v1h-19zM455 352h4v1h-4zM416 352h5v1h-5zM450 352h3v1h-3zM652 352h3v1h-3zM461 352h4v1h-4zM636 352h7v1h-7zM503 352h13v1h-13zM483 353h3v1h-3zM634 353h6v1h-6zM490 353h6v1h-6zM548 353h3v1h-3zM827 353h2v1h-2zM553 353h4v1h-4zM501 353h15v1h-15zM856 353h2v1h-2zM650 353h12v1h-12zM420 353h1v1h-1zM572 353h6v1h-6zM468 353h6v1h-6zM464 353h3v1h-3zM449 353h12v1h-12zM476 353h4v1h-4zM838 353h2v1h-2zM844 353h5v2h-5zM491 354h2v1h-2zM540 354h1v1h-1zM528 354h2v1h-2zM854 354h2v1h-2zM561 354h2v1h-2zM567 354h12v1h-12zM500 354h1v1h-1zM641 354h3v1h-3zM649 354h11v1h-11zM668 354h1v1h-1zM478 354h1v1h-1zM671 354h1v1h-1zM466 354h8v1h-8zM457 354h8v1h-8zM556 354h1v1h-1zM548 354h1v1h-1zM483 354h4v1h-4zM445 354h3v1h-3zM535 354h2v1h-2zM450 354h6v1h-6zM628 354h2v1h-2zM831 354h3v1h-3zM495 354h2v1h-2zM504 354h5v1h-5zM482 355h5v1h-5zM846 355h3v1h-3zM574 355h2v1h-2zM566 355h6v1h-6zM499 355h1v1h-1zM619 355h1v1h-1zM493 355h3v1h-3zM437 355h2v1h-2zM625 355h5v1h-5zM821 355h1v1h-1zM653 355h5v1h-5zM470 355h5v1h-5zM536 355h6v1h-6zM551 355h4v1h-4zM463 355h6v1h-6zM644 355h4v1h-4zM443 355h14v1h-14zM640 355h1v1h-1zM873 355h4v1h-4zM530 355h1v1h-1zM506 355h3v1h-3zM833 355h1v2h-1zM476 356h1v1h-1zM637 356h4v1h-4zM469 356h5v1h-5zM463 356h4v1h-4zM624 356h1v1h-1zM555 356h1v1h-1zM443 356h3v1h-3zM660 356h1v1h-1zM436 356h4v1h-4zM545 356h3v1h-3zM617 356h2v1h-2zM850 356h1v1h-1zM449 356h9v1h-9zM653 356h4v1h-4zM566 356h1v1h-1zM532 356h12v1h-12zM488 356h1v1h-1zM481 356h5v1h-5zM839 356h5v1h-5zM852 356h2v1h-2zM646 356h2v1h-2zM425 355h1v3h-1zM482 357h2v1h-2zM622 357h1v1h-1zM655 357h1v1h-1zM611 357h5v1h-5zM493 357h3v1h-3zM450 357h17v1h-17zM510 357h2v1h-2zM662 357h2v1h-2zM839 357h1v1h-1zM637 357h10v1h-10zM633 357h1v1h-1zM540 357h3v1h-3zM626 357h2v1h-2zM503 357h2v1h-2zM486 357h6v1h-6zM552 357h1v1h-1zM443 357h2v1h-2zM535 357h2v1h-2zM825 357h2v1h-2zM843 357h2v1h-2zM866 357h2v1h-2zM545 357h5v1h-5zM853 357h2v1h-2zM861 357h1v1h-1zM468 357h6v1h-6zM567 357h1v1h-1zM449 358h11v1h-11zM486 358h20v1h-20zM623 358h1v1h-1zM482 358h1v1h-1zM837 358h11v1h-11zM542 358h1v1h-1zM879 358h2v1h-2zM662 358h1v1h-1zM550 358h3v1h-3zM659 358h2v1h-2zM826 358h3v1h-3zM640 358h4v1h-4zM442 358h4v1h-4zM627 358h2v1h-2zM580 358h1v1h-1zM646 358h2v1h-2zM477 358h2v1h-2zM833 358h1v1h-1zM464 358h9v1h-9zM432 358h3v2h-3zM827 359h3v1h-3zM468 359h4v1h-4zM487 359h15v1h-15zM504 359h1v1h-1zM464 359h2v1h-2zM658 359h4v1h-4zM640 359h10v1h-10zM663 359h2v1h-2zM461 359h1v1h-1zM444 359h16v1h-16zM880 359h4v1h-4zM837 359h8v1h-8zM482 359h3v1h-3zM627 359h1v1h-1zM855 359h5v1h-5zM667 359h2v1h-2zM572 359h2v1h-2zM567 360h3v1h-3zM572 360h1v1h-1zM543 360h1v1h-1zM481 360h2v1h-2zM843 360h5v1h-5zM487 360h14v1h-14zM860 360h6v1h-6zM449 360h10v1h-10zM836 360h3v1h-3zM464 360h13v1h-13zM434 360h2v1h-2zM658 360h2v1h-2zM462 361h8v1h-8zM471 361h8v1h-8zM859 361h5v1h-5zM871 361h3v1h-3zM609 361h1v1h-1zM441 361h2v1h-2zM488 361h12v1h-12zM631 361h1v1h-1zM836 361h2v1h-2zM840 361h15v1h-15zM564 362h2v1h-2zM458 362h3v1h-3zM474 362h6v1h-6zM481 362h2v1h-2zM490 362h9v1h-9zM848 362h4v1h-4zM874 362h1v1h-1zM859 362h2v1h-2zM879 362h5v1h-5zM503 362h2v1h-2zM834 362h4v1h-4zM469 362h3v1h-3zM449 362h3v1h-3zM462 362h6v1h-6zM528 362h1v1h-1zM871 362h1v1h-1zM651 362h2v1h-2zM440 362h5v1h-5zM566 363h1v1h-1zM458 363h13v1h-13zM449 363h5v1h-5zM489 363h16v1h-16zM760 363h1v1h-1zM883 363h1v1h-1zM880 363h1v1h-1zM527 363h1v1h-1zM564 363h1v1h-1zM582 363h2v1h-2zM438 363h7v1h-7zM654 363h3v1h-3zM849 363h2v1h-2zM474 363h13v1h-13zM468 364h4v1h-4zM484 364h2v1h-2zM494 364h11v1h-11zM462 364h1v1h-1zM490 364h2v1h-2zM857 364h1v1h-1zM473 364h8v1h-8zM437 364h6v1h-6zM447 364h13v1h-13zM582 364h1v1h-1zM855 364h1v1h-1zM476 365h29v1h-29zM440 365h6v1h-6zM467 365h8v1h-8zM862 365h5v1h-5zM447 365h16v1h-16zM466 366h7v1h-7zM880 366h2v1h-2zM475 366h10v1h-10zM440 366h23v1h-23zM487 366h14v1h-14zM502 366h3v1h-3zM863 366h3v1h-3zM440 367h1v1h-1zM569 367h1v1h-1zM863 367h2v1h-2zM442 367h7v1h-7zM451 367h21v1h-21zM882 367h2v1h-2zM479 367h25v1h-25zM578 367h2v1h-2zM446 368h5v1h-5zM881 368h3v1h-3zM454 368h18v1h-18zM474 368h2v1h-2zM874 368h1v1h-1zM481 368h20v1h-20zM439 368h6v1h-6zM483 369h19v1h-19zM883 369h1v1h-1zM478 369h4v1h-4zM473 369h2v1h-2zM469 369h3v1h-3zM440 369h3v1h-3zM446 369h3v1h-3zM874 369h2v1h-2zM455 369h12v1h-12zM860 369h1v2h-1zM463 370h4v1h-4zM451 370h6v1h-6zM478 370h3v1h-3zM470 370h2v1h-2zM495 370h8v1h-8zM446 370h2v1h-2zM486 370h7v2h-7zM441 370h2v2h-2zM508 371h1v1h-1zM456 371h2v1h-2zM447 371h8v1h-8zM498 371h6v1h-6zM473 371h1v1h-1zM481 371h3v1h-3zM441 372h23v1h-23zM495 372h3v1h-3zM480 372h13v1h-13zM514 372h1v1h-1zM499 372h3v1h-3zM474 373h3v1h-3zM455 373h1v1h-1zM493 373h8v1h-8zM463 373h6v1h-6zM479 373h9v1h-9zM457 373h2v1h-2zM512 373h1v1h-1zM445 373h6v1h-6zM517 374h5v1h-5zM493 374h11v1h-11zM523 374h4v1h-4zM472 374h9v1h-9zM466 374h2v1h-2zM489 374h3v2h-3zM494 375h11v1h-11zM471 375h11v1h-11zM466 375h3v1h-3zM517 375h10v1h-10zM484 375h3v1h-3zM481 376h5v1h-5zM517 376h8v1h-8zM490 376h14v1h-14zM466 376h14v1h-14zM522 377h2v1h-2zM503 377h2v1h-2zM466 377h3v1h-3zM489 377h12v1h-12zM471 377h13v1h-13zM519 377h1v1h-1zM484 378h22v1h-22zM470 378h13v1h-13zM478 379h19v1h-19zM500 379h3v1h-3zM471 379h5v1h-5zM492 380h6v1h-6zM478 380h5v1h-5zM471 380h3v1h-3zM494 381h3v1h-3zM499 381h4v1h-4zM504 381h1v1h-1zM501 382h3v1h-3z'/><path fill='#3232ff' d='M521 246h2v1h-2zM387 246h2v2h-2zM396 250h1v1h-1zM535 254h3v2h-3zM535 256h2v1h-2zM529 257h2v2h-2zM523 260h2v1h-2zM524 261h2v1h-2zM523 262h3v1h-3zM503 265h4v1h-4zM555 265h1v1h-1zM506 266h1v1h-1zM490 266h3v1h-3zM543 266h1v2h-1zM491 267h2v1h-2zM475 271h2v1h-2zM475 272h3v1h-3zM578 274h2v1h-2zM579 275h1v1h-1zM579 276h2v1h-2zM782 281h1v3h-1zM618 283h2v1h-2zM775 284h1v1h-1zM657 294h3v1h-3zM657 295h4v2h-4zM626 296h1v1h-1zM659 297h1v1h-1zM650 302h2v2h-2zM689 303h2v1h-2zM679 305h2v2h-2zM823 306h1v1h-1zM650 306h1v1h-1zM648 307h2v1h-2zM822 307h3v1h-3zM664 308h2v2h-2zM660 309h2v1h-2zM665 310h1v1h-1zM658 311h1v1h-1zM635 312h3v1h-3zM622 313h1v1h-1zM670 313h2v1h-2zM633 313h4v1h-4zM630 313h1v2h-1zM670 314h3v1h-3zM635 314h2v1h-2zM632 314h1v1h-1zM683 314h1v1h-1zM794 313h2v3h-2zM664 315h1v1h-1zM669 315h6v1h-6zM692 315h1v1h-1zM627 315h4v1h-4zM685 315h1v1h-1zM647 316h6v1h-6zM663 316h3v1h-3zM701 316h2v1h-2zM795 316h1v1h-1zM672 316h4v1h-4zM701 317h3v1h-3zM637 317h16v1h-16zM625 317h2v1h-2zM664 317h2v1h-2zM672 317h6v1h-6zM710 317h2v1h-2zM657 317h1v1h-1zM630 318h1v1h-1zM636 318h13v1h-13zM650 318h3v1h-3zM674 318h4v1h-4zM684 319h1v1h-1zM677 319h1v1h-1zM646 319h6v1h-6zM633 319h12v1h-12zM629 319h2v1h-2zM630 320h7v1h-7zM618 320h1v1h-1zM598 321h1v1h-1zM628 321h10v1h-10zM785 321h1v1h-1zM649 321h2v1h-2zM617 321h4v2h-4zM625 322h2v1h-2zM630 322h8v1h-8zM784 322h2v1h-2zM794 322h1v1h-1zM595 322h1v1h-1zM687 323h2v1h-2zM636 323h2v1h-2zM623 323h4v1h-4zM670 323h1v1h-1zM619 323h1v1h-1zM672 323h1v1h-1zM675 323h1v1h-1zM628 323h7v1h-7zM622 324h17v1h-17zM683 324h2v1h-2zM607 324h1v1h-1zM651 324h1v1h-1zM675 324h2v1h-2zM800 324h1v1h-1zM696 325h1v1h-1zM632 325h7v1h-7zM663 325h1v1h-1zM683 325h1v1h-1zM621 325h10v1h-10zM620 326h11v1h-11zM640 326h1v1h-1zM664 326h1v1h-1zM609 326h1v1h-1zM826 326h2v1h-2zM643 326h2v1h-2zM683 326h10v1h-10zM811 326h1v1h-1zM791 326h1v1h-1zM618 327h12v1h-12zM643 327h4v1h-4zM824 327h2v1h-2zM682 327h9v1h-9zM604 327h2v1h-2zM793 328h1v1h-1zM828 328h2v1h-2zM779 328h2v1h-2zM796 328h1v1h-1zM611 328h2v1h-2zM820 328h2v1h-2zM623 328h6v1h-6zM616 328h6v1h-6zM685 328h4v1h-4zM613 329h1v1h-1zM794 329h3v1h-3zM826 329h6v1h-6zM616 329h4v1h-4zM816 329h7v1h-7zM671 329h3v1h-3zM623 329h3v1h-3zM627 329h1v2h-1zM620 330h4v1h-4zM663 330h2v1h-2zM795 330h1v1h-1zM815 330h8v1h-8zM614 330h2v1h-2zM825 330h9v1h-9zM820 331h7v1h-7zM613 331h4v1h-4zM792 331h2v1h-2zM831 331h7v1h-7zM637 331h1v1h-1zM610 331h1v1h-1zM625 331h3v1h-3zM668 331h2v2h-2zM626 332h2v1h-2zM825 332h2v1h-2zM790 332h2v1h-2zM610 332h9v1h-9zM814 332h1v1h-1zM637 332h2v1h-2zM641 332h1v1h-1zM685 332h2v1h-2zM828 332h3v1h-3zM663 332h4v1h-4zM817 332h1v1h-1zM633 332h2v1h-2zM832 332h6v2h-6zM642 333h1v1h-1zM816 333h2v1h-2zM638 333h1v1h-1zM612 333h4v1h-4zM667 333h2v1h-2zM625 333h3v2h-3zM685 334h3v1h-3zM613 334h1v1h-1zM677 334h1v1h-1zM721 334h1v1h-1zM652 334h2v1h-2zM601 334h1v1h-1zM605 334h1v1h-1zM665 334h5v1h-5zM663 335h3v1h-3zM799 335h2v1h-2zM826 335h2v1h-2zM600 335h7v1h-7zM833 335h1v1h-1zM677 335h2v1h-2zM720 335h2v1h-2zM786 335h3v1h-3zM665 336h1v1h-1zM678 336h1v1h-1zM599 336h8v1h-8zM638 336h1v1h-1zM685 336h1v1h-1zM682 336h1v1h-1zM802 336h1v2h-1zM786 336h5v2h-5zM840 336h1v2h-1zM681 337h1v1h-1zM606 337h1v1h-1zM597 337h7v1h-7zM646 337h2v1h-2zM683 337h4v1h-4zM798 337h1v2h-1zM787 338h5v1h-5zM685 338h3v1h-3zM818 338h2v1h-2zM680 338h3v1h-3zM657 338h1v1h-1zM646 338h1v1h-1zM597 338h5v1h-5zM609 338h1v2h-1zM687 339h2v1h-2zM681 339h4v1h-4zM787 339h1v1h-1zM598 339h2v1h-2zM681 340h8v1h-8zM847 341h1v1h-1zM806 341h4v1h-4zM818 341h1v1h-1zM601 341h2v1h-2zM640 341h2v1h-2zM685 341h4v1h-4zM639 342h1v1h-1zM682 342h6v1h-6zM805 342h5v1h-5zM817 342h3v1h-3zM838 343h1v1h-1zM806 343h4v1h-4zM662 343h1v1h-1zM816 343h1v1h-1zM682 343h9v1h-9zM820 343h3v1h-3zM852 343h1v1h-1zM693 343h2v1h-2zM683 344h9v1h-9zM604 344h1v1h-1zM846 344h2v1h-2zM806 344h3v1h-3zM644 344h4v1h-4zM662 344h2v2h-2zM638 345h1v1h-1zM830 345h2v1h-2zM801 345h1v1h-1zM645 345h3v1h-3zM684 345h8v1h-8zM687 346h5v1h-5zM810 346h1v2h-1zM663 347h3v1h-3zM642 347h1v1h-1zM633 347h1v1h-1zM660 347h1v1h-1zM687 347h4v1h-4zM654 347h1v1h-1zM621 347h2v1h-2zM816 347h3v1h-3zM681 348h1v1h-1zM630 348h3v1h-3zM635 348h3v1h-3zM685 348h4v1h-4zM642 348h2v1h-2zM636 349h2v1h-2zM640 349h4v1h-4zM844 349h1v1h-1zM632 349h1v1h-1zM663 349h1v1h-1zM634 349h1v1h-1zM810 349h1v1h-1zM847 349h2v1h-2zM841 350h1v1h-1zM637 350h7v1h-7zM669 351h2v1h-2zM763 351h1v1h-1zM866 352h1v1h-1zM617 352h1v1h-1zM623 353h2v1h-2zM613 353h1v1h-1zM635 354h1v1h-1zM828 354h1v1h-1zM616 354h4v1h-4zM661 354h7v1h-7zM669 354h2v1h-2zM622 355h1v1h-1zM840 355h3v1h-3zM618 355h1v1h-1zM828 355h2v2h-2zM661 355h10v2h-10zM851 356h1v1h-1zM849 357h3v1h-3zM666 357h5v1h-5zM823 357h2v1h-2zM660 357h2v1h-2zM650 357h1v1h-1zM874 358h1v1h-1zM824 358h1v1h-1zM856 358h1v1h-1zM661 358h1v1h-1zM850 359h1v1h-1zM852 359h1v1h-1zM662 360h1v1h-1zM864 361h5v1h-5zM629 361h2v1h-2zM840 362h2v1h-2zM872 362h2v1h-2zM865 362h4v1h-4zM875 362h2v1h-2zM867 363h2v1h-2zM872 363h5v1h-5zM867 364h1v1h-1zM843 364h1v1h-1zM871 364h6v1h-6zM847 364h2v1h-2zM871 365h7v1h-7zM867 365h3v1h-3zM844 366h2v1h-2zM872 366h2v1h-2zM869 366h2v1h-2zM855 366h1v1h-1zM874 367h1v1h-1zM845 367h2v2h-2zM878 368h2v1h-2zM860 368h2v1h-2zM852 370h1v1h-1zM876 370h3v1h-3zM851 371h2v1h-2z'/></g>
<g fill='none' stroke='#000' stroke-width='1' stroke-linejoin='round' shape-rendering='crispEdges'>
<polyline points='291.00,109.00 292.00,113.75 278.75,130.00 260.00,135.00 256.75,138.75 262.50,143.75 260.00,146.25 266.00,152.00 258.75,157.50 262.00,167.50 262.50,173.75 267.00,180.50 265.00,185.00 250.00,195.00 237.50,202.00 226.00,206.00 227.50,211.00 222.00,213.50 214.00,215.00'/>
<polyline points='319.50,160.00 325.00,153.00 335.00,152.00 338.75,147.00 350.00,150.00 358.75,149.25 368.75,153.00 373.75,151.25 377.50,148.75 387.50,151.25 397.50,153.75 410.00,152.50 412.50,156.25 416.00,147.50 425.00,144.00'/>
<polyline points='319.50,160.00 325.00,165.00 340.00,168.75 348.75,175.00 343.75,180.00 350.00,188.75 353.75,195.00 355.00,202.50 358.75,208.00 370.00,203.75 377.50,205.00 382.50,202.00 391.00,205.50 400.00,213.75 411.00,221.00 422.50,219.50 437.50,211.00 445.00,208.75 450.00,208.50 465.00,208.75 475.00,210.00 482.50,212.00 490.00,215.00 503.75,213.75 508.75,217.00 505.00,225.00 493.75,227.50 486.00,232.50 485.00,241.00 475.00,253.50 468.75,262.25 467.50,268.50 461.25,273.00 462.50,276.50 475.00,278.00 482.50,284.75 486.25,289.75 497.50,294.75 510.00,297.25 518.75,298.00 521.25,301.00 535.00,302.25 550.00,302.25 565.00,303.00 580.00,301.00 590.00,303.50 598.75,302.25 600.00,301.00 610.00,303.50 618.75,309.75 625.00,304.75 637.50,299.75 640.00,292.25 643.75,290.50 646.25,296.00 645.00,299.75 648.75,301.00 653.75,298.50 658.75,288.50 655.00,287.25 675.00,288.50'/>
<polyline points='353.75,195.00 343.75,197.00 335.00,205.00 332.50,215.00 323.75,223.75 316.25,233.50 311.25,238.50 312.50,252.25 308.75,255.50 303.75,253.00 300.00,254.75 292.50,252.25 280.00,249.75 267.50,247.25 260.00,249.00 243.75,251.00 235.00,257.50'/>
<polyline points='527.50,195.50 520.00,201.25 510.00,205.50 493.75,206.25 486.00,208.75 483.75,212.00'/>
<polyline points='564.50,187.00 570.00,190.00 580.00,200.00 575.00,206.25 578.75,215.00 582.50,220.00 581.00,225.00 583.75,226.00 581.25,236.00 572.50,243.50 570.00,252.25 570.00,262.25 572.50,259.75 575.00,259.75 575.00,266.00 581.25,262.25 592.50,262.25 600.00,264.50 605.00,271.00 610.00,282.25 602.50,287.25 598.75,296.00 598.75,302.25'/>
<polyline points='706.00,195.50 702.50,200.00 701.00,207.50 696.00,213.75 698.75,222.50 696.00,227.00 688.75,228.00 686.25,231.00 680.00,238.50 677.50,251.00 672.50,254.75 676.25,264.75 677.50,274.75 685.00,276.00 692.50,277.25 691.25,281.50 682.50,282.25 677.50,279.75 670.00,283.50 675.00,288.50 686.25,298.50 692.50,304.75 695.00,312.25 691.25,319.75 693.75,327.25 705.00,331.00 706.25,338.50'/>
<polyline points='301.25,256.00 302.50,259.75 310.00,262.25 320.00,260.50 326.25,263.50 328.75,268.50 340.00,273.00 350.00,276.00 358.75,277.25 360.50,283.50 358.75,291.00'/>
<polyline points='243.00,282.25 251.25,283.50 262.50,282.25 267.50,284.75 272.50,289.75 282.50,292.25 286.25,294.75 290.00,292.25 297.50,293.50 301.25,296.50 306.25,294.75 317.50,293.00 325.00,289.75 330.00,293.00 340.00,295.50 350.00,294.75 358.75,291.00 365.00,292.25 375.00,291.50 382.50,289.75 392.50,292.25 402.50,289.75 425.00,289.75 442.50,283.50 461.25,277.25'/>
<polyline points='340.00,295.50 338.75,304.75 342.50,312.25 348.75,318.50 350.00,323.50'/>
<polyline points='521.25,301.00 517.50,306.50 498.75,307.25 496.25,321.00 492.50,330.50 512.50,329.75 522.50,338.50 523.75,346.00 528.75,354.75 525.00,363.50 530.00,372.25 531.25,378.50'/>
<polyline points='625.00,304.75 627.50,308.00 637.50,309.75 653.75,314.75 665.00,312.25 661.25,310.50 652.50,308.50 648.75,302.25'/>
</g>
<polygon points='23.75,62.50 41.00,60.75 45.00,61.00 54.00,65.50 67.50,65.50 85.00,69.50 96.00,65.00 100.00,66.00 107.50,69.50 127.50,74.50 134.00,81.00 141.00,81.00 150.00,87.00 160.00,86.00 175.00,89.50 184.00,93.00 190.00,89.50 195.00,90.00 197.50,97.00 207.50,100.00 215.00,105.50 225.00,108.00 235.00,109.50 238.75,108.00 250.00,110.50 255.00,110.00 256.00,105.50 266.00,108.75 277.50,111.25 291.00,108.75 305.00,107.50 310.00,110.00 318.75,105.50 327.50,104.50 332.50,105.50 333.75,109.50 350.00,114.50 361.00,118.75 362.00,115.50 372.50,114.25 388.75,115.00 395.00,121.25 408.75,125.00 408.75,130.50 425.00,143.75 432.50,146.25 450.00,151.25 465.00,151.75 471.00,154.50 480.00,156.25 487.50,163.75 496.00,165.50 507.50,170.00 509.50,173.75 506.00,179.50 500.00,185.00 503.75,190.50 515.00,192.00 527.50,195.00 532.50,193.75 538.75,189.25 550.00,188.00 563.75,186.25 566.00,180.00 572.50,175.75 580.00,174.25 591.00,173.75 600.00,170.50 612.50,170.75 626.00,171.25 630.50,173.75 633.00,183.75 636.00,187.00 640.00,185.00 645.00,175.00 650.00,171.25 657.50,170.00 665.00,172.50 675.00,177.50 687.50,177.00 705.00,190.00 706.00,195.00 708.75,198.00 718.75,197.50 735.00,196.75 741.00,197.00 750.00,201.25 758.75,203.75 766.00,205.00 768.00,210.00 762.50,217.50 761.00,225.00 763.75,228.75 752.50,231.25 750.00,232.25 746.25,241.00 761.25,248.50 770.00,253.50 783.75,255.50 788.75,264.00 805.00,263.50 811.25,268.50 815.00,267.25 821.25,269.75 828.75,268.50 840.00,276.50 846.25,274.75 851.25,280.50 851.25,286.00 845.00,293.50 836.25,297.25 833.75,302.25 831.25,314.75 837.50,323.50 841.25,331.00 850.00,338.50 865.00,344.75 875.00,348.50 883.75,354.75 891.25,361.00 888.75,366.00 885.00,373.50 882.50,378.50 882.50,383.50 872.50,386.00 862.50,392.25 855.00,387.25 847.50,386.00 841.25,379.75 830.00,372.25 811.25,373.00 807.50,376.00 792.50,376.00 775.00,371.00 762.50,365.50 755.00,359.75 762.50,353.00 755.00,353.00 742.50,351.00 735.00,346.00 725.00,341.00 717.50,343.00 706.25,338.50 700.00,339.75 692.50,346.00 682.50,356.00 662.50,361.00 658.75,364.75 642.50,361.00 641.25,366.00 647.50,372.25 635.00,371.00 623.75,372.25 615.00,369.00 610.00,373.50 600.00,374.75 590.00,373.00 582.50,369.75 572.50,371.50 567.50,368.50 558.75,369.00 556.25,373.50 540.00,376.00 531.25,378.50 520.00,377.25 512.50,379.75 501.25,384.75 495.00,382.25 485.00,383.00 475.00,381.00 466.25,382.25 460.00,378.50 450.00,374.00 435.00,376.00 431.25,369.75 421.25,367.25 428.75,363.50 428.75,359.75 417.50,356.00 407.50,349.75 400.00,342.25 388.75,334.00 385.00,336.00 378.75,331.50 381.25,328.00 380.00,324.00 375.00,323.50 367.50,322.25 357.50,321.50 350.00,323.50 348.75,329.75 342.50,336.00 341.25,341.50 331.25,341.50 325.00,339.00 317.50,338.00 312.50,334.75 303.75,334.75 297.50,333.00 288.75,332.25 280.00,334.00 271.25,333.00 267.50,330.50 261.25,334.75 257.50,338.50 251.25,343.00 241.25,338.00 236.25,337.25 233.75,334.75 225.00,334.00 213.75,330.50 216.25,327.25 217.50,319.75 223.75,314.75 231.25,313.50 238.75,303.50 242.50,293.50 243.00,281.00 241.25,269.75 236.25,259.75 228.75,253.50 227.50,247.25 224.25,242.25 225.00,233.50 221.25,223.50 213.75,216.00 212.50,213.75 209.00,192.50 204.00,177.50 195.00,169.50 175.00,164.50 162.50,163.75 155.00,156.00 151.00,143.75 147.50,138.75 136.00,139.50 122.50,127.50 100.00,126.00 87.50,125.00 77.50,118.75 72.50,119.50 60.00,115.00 55.00,118.75 47.50,112.50 45.00,100.00 41.00,95.00 32.50,93.75 25.00,90.00 12.50,87.50 11.00,86.00 16.00,73.75 22.50,70.00' fill='none' stroke='#000' stroke-width='2' stroke-linejoin='round' shape-rendering='crispEdges'/>
</svg>
<div id='frame'></div>
<div class='t b' style='left:19.60px;top:22.38px;font-size:30.5px;transform:scaleX(0.972);'>Georgia</div>
<div class='t b' style='left:19.40px;top:443.02px;font-size:18.4px;transform:scaleX(1.01);'>Mean Vegetation Health Index (VHI)</div>
<div class='t' style='left:20.00px;top:473.57px;font-size:17.76px;'>from</div>
<div class='t' style='left:75.60px;top:473.57px;font-size:17.76px;'>: start of SEASON 2</div>
<div class='t' style='left:20.00px;top:503.57px;font-size:17.76px;'>to</div>
<div class='t' style='left:65.60px;top:503.57px;font-size:17.76px;transform:scaleX(1.012);'>: dekad 3 January 2026</div>
<div class='t' style='left:19.70px;top:533.57px;font-size:17.76px;'>NON-CROPLAND PIXELS EXCLUDED</div>
<div class='t' style='left:19.70px;top:563.57px;font-size:17.76px;transform:scaleX(1.02);'>METOP-AVHRR</div>
<div class='t' style='left:20.20px;top:593.97px;font-size:17.76px;transform:scaleX(1.012);'>WGS84, Geographic Lat/Lon</div>
<div class='t b' style='left:469.60px;top:436.80px;font-size:15px;transform:scaleX(0.988);text-decoration:underline;text-underline-offset:1px;text-decoration-thickness:1px;'>Mean VHI</div>
<div class='sw' style='top:456px;background:#960000'></div>
<div class='t' style='left:509.20px;top:458.98px;font-size:10.3px;transform:scaleX(1.05);'>&lt; 0.15</div>
<div class='sw' style='top:473px;background:#ff0000'></div>
<div class='t' style='left:509.20px;top:475.98px;font-size:10.3px;transform:scaleX(1.05);'>0.15 - 0.25</div>
<div class='sw' style='top:490px;background:#ff8c00'></div>
<div class='t' style='left:509.20px;top:492.98px;font-size:10.3px;transform:scaleX(1.05);'>0.25 - 0.35</div>
<div class='sw' style='top:507px;background:#ffc864'></div>
<div class='t' style='left:509.20px;top:509.98px;font-size:10.3px;transform:scaleX(1.05);'>0.35 - 0.45</div>
<div class='sw' style='top:524px;background:#ffff00'></div>
<div class='t' style='left:509.20px;top:526.98px;font-size:10.3px;transform:scaleX(1.05);'>0.45 - 0.55</div>
<div class='sw' style='top:541px;background:#64ff00'></div>
<div class='t' style='left:509.20px;top:543.98px;font-size:10.3px;transform:scaleX(1.05);'>0.55 - 0.65</div>
<div class='sw' style='top:558px;background:#32c800'></div>
<div class='t' style='left:509.20px;top:560.98px;font-size:10.3px;transform:scaleX(1.05);'>0.65 - 0.75</div>
<div class='sw' style='top:575px;background:#009600'></div>
<div class='t' style='left:509.20px;top:577.98px;font-size:10.3px;transform:scaleX(1.05);'>0.75 - 0.85</div>
<div class='sw' style='top:592px;background:#286e00'></div>
<div class='t' style='left:509.20px;top:594.98px;font-size:10.3px;transform:scaleX(1.05);'>&gt;= 0.85</div>
<div class='sw' style='top:620px;background:#3232ff'></div>
<div class='t' style='left:509.20px;top:622.98px;font-size:10.3px;transform:scaleX(1.07);'>off season</div>
<div class='sw' style='top:637px;background:#323232'></div>
<div class='t' style='left:509.20px;top:639.98px;font-size:10.3px;transform:scaleX(1.07);'>no data</div>
<div class='sw' style='top:654px;background:#00c8c8'></div>
<div class='t' style='left:509.20px;top:656.98px;font-size:10.3px;transform:scaleX(1.07);'>no season 2</div>
<div class='sw' style='top:671px;background:#c8c8c8'></div>
<div class='t' style='left:509.20px;top:673.98px;font-size:10.3px;transform:scaleX(1.07);'>no cropland</div>
<svg style='left:670.20px;top:513.25px;will-change:transform' width='62' height='62' viewBox='-31 -31 62 62'><defs><clipPath id='lc'><circle cx='0' cy='0' r='25.6'/></clipPath><path id='fp' d='M -22.70 6.08 A 23.50 23.50 0 0 0 22.70 6.08'/></defs><circle cx='0' cy='0' r='26.7' fill='#fff' stroke='#1a1a1a' stroke-width='2.8'/><g clip-path='url(#lc)' fill='none' stroke='#1a1a1a' stroke-width='2.6' stroke-linejoin='miter'><polyline points='-15.74,-22.21 -0.09,12.51 15.56,-22.21'/><polyline points='-11.51,-22.21 -0.09,8.62 11.34,-22.21'/><polyline points='-7.59,-22.21 -0.09,3.62 7.41,-22.21'/></g><ellipse cx='-0.09' cy='9.45' rx='6.6' ry='6.6' fill='#1a1a1a'/><polyline points='-2.68,10.01 -0.09,13.44 2.50,10.01' fill='none' stroke='#fff' stroke-width='0.7'/><path d='M -0.09 -10.81 C 2.51 -7.21 2.11 -4.01 -0.09 -4.01 C -2.29 -4.01 -2.69 -7.21 -0.09 -10.81 Z' fill='#1a1a1a' stroke='#fff' stroke-width='0.6'/><rect x='-1.04' y='14.82' width='1.9' height='10.65' fill='#1a1a1a'/><text transform='translate(-18.61 1.40) scale(0.86 1)' font-size='14.9' font-family="Liberation Sans" font-weight='bold' fill='#1a1a1a' text-anchor='middle'>F</text><text transform='translate(18.24 1.77) scale(0.88 1)' font-size='15.8' font-family="Liberation Sans" font-weight='bold' fill='#1a1a1a' text-anchor='middle'>O</text><text transform='translate(-0.09 -11.56) scale(0.92 1)' font-size='14.2' font-family="Liberation Sans" font-weight='bold' fill='#1a1a1a' text-anchor='middle'>A</text><text font-size='7' font-family="Liberation Sans" font-weight='bold' fill='#1a1a1a' letter-spacing='0.5'><textPath href='#fp' startOffset='23%' text-anchor='middle'>FIAT</textPath></text><text font-size='7' font-family="Liberation Sans" font-weight='bold' fill='#1a1a1a' letter-spacing='0.35'><textPath href='#fp' startOffset='76.5%' text-anchor='middle'>PANIS</textPath></text></svg>
<div class='t b' style='left:738.80px;top:520.84px;font-size:14.6px;transform:scaleX(0.935);color:#0d0d0d;'>Food and Agriculture</div>
<div class='t b' style='left:738.80px;top:538.84px;font-size:14.6px;transform:scaleX(0.955);color:#0d0d0d;'>Organization of the</div>
<div class='t b' style='left:738.80px;top:556.54px;font-size:14.6px;transform:scaleX(0.955);color:#0d0d0d;'>United Nations</div>
<div style='position:absolute;left:672.5px;top:586.7px;width:215px;height:2px;background:#1a1a1a'></div>
<div class='t' style='left:672.60px;top:599.35px;font-size:14px;transform:scaleX(1.045);color:#3c3c3c;'>Global Information and Early</div>
<div class='t' style='left:672.60px;top:618.55px;font-size:14px;transform:scaleX(0.985);color:#3c3c3c;'>Warning System &ndash; GIEWS</div>
<div class='t' style='left:15.20px;top:696.03px;font-size:11.3px;transform:scaleX(1.05);'>Disclaimer: The boundaries and names shown and the designations used on this map do not imply the expression of any opinion whatsoever on the part of FAO</div>
<div class='t' style='left:15.20px;top:710.03px;font-size:11.3px;transform:scaleX(1.069);'>concerning the legal status of any country, territory, area or of its authorities, or concerning the delimitation of its frontiers and boundaries.</div>
</body></html>
